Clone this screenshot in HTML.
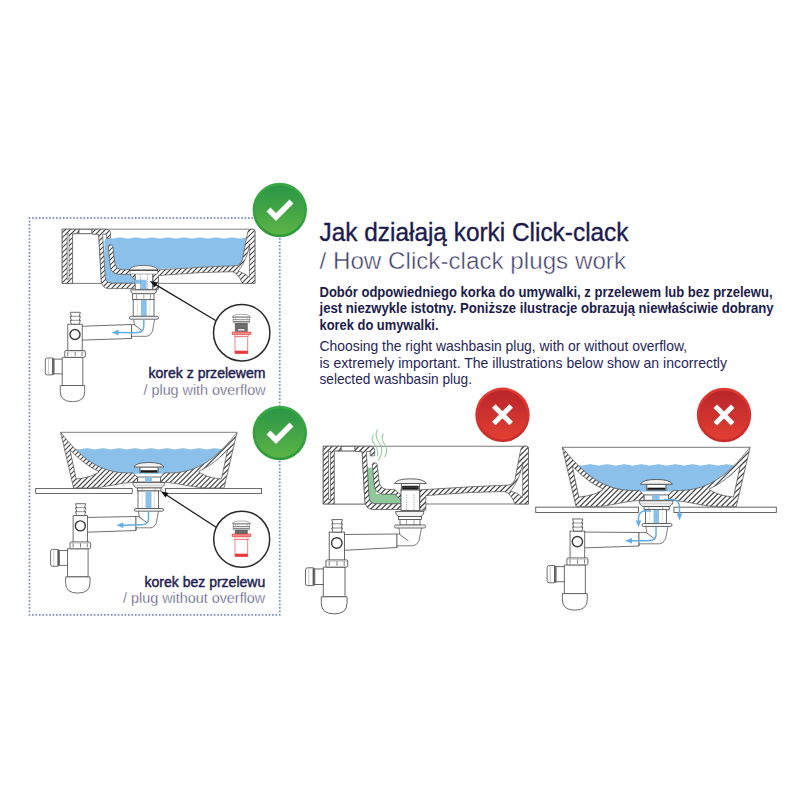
<!DOCTYPE html><html><head><meta charset="utf-8"><style>html,body{margin:0;padding:0;background:#fff;overflow:hidden}svg{display:block}</style></head><body>
<svg width="800" height="800" viewBox="0 0 800 800">
<defs><path id="hl" d="M-100 -20 L900 -1020 M-100 -15 L900 -1015 M-100 -10 L900 -1010 M-100 -5 L900 -1005 M-100 0 L900 -1000 M-100 5 L900 -995 M-100 10 L900 -990 M-100 15 L900 -985 M-100 20 L900 -980 M-100 25 L900 -975 M-100 30 L900 -970 M-100 35 L900 -965 M-100 40 L900 -960 M-100 45 L900 -955 M-100 50 L900 -950 M-100 55 L900 -945 M-100 60 L900 -940 M-100 65 L900 -935 M-100 70 L900 -930 M-100 75 L900 -925 M-100 80 L900 -920 M-100 85 L900 -915 M-100 90 L900 -910 M-100 95 L900 -905 M-100 100 L900 -900 M-100 105 L900 -895 M-100 110 L900 -890 M-100 115 L900 -885 M-100 120 L900 -880 M-100 125 L900 -875 M-100 130 L900 -870 M-100 135 L900 -865 M-100 140 L900 -860 M-100 145 L900 -855 M-100 150 L900 -850 M-100 155 L900 -845 M-100 160 L900 -840 M-100 165 L900 -835 M-100 170 L900 -830 M-100 175 L900 -825 M-100 180 L900 -820 M-100 185 L900 -815 M-100 190 L900 -810 M-100 195 L900 -805 M-100 200 L900 -800 M-100 205 L900 -795 M-100 210 L900 -790 M-100 215 L900 -785 M-100 220 L900 -780 M-100 225 L900 -775 M-100 230 L900 -770 M-100 235 L900 -765 M-100 240 L900 -760 M-100 245 L900 -755 M-100 250 L900 -750 M-100 255 L900 -745 M-100 260 L900 -740 M-100 265 L900 -735 M-100 270 L900 -730 M-100 275 L900 -725 M-100 280 L900 -720 M-100 285 L900 -715 M-100 290 L900 -710 M-100 295 L900 -705 M-100 300 L900 -700 M-100 305 L900 -695 M-100 310 L900 -690 M-100 315 L900 -685 M-100 320 L900 -680 M-100 325 L900 -675 M-100 330 L900 -670 M-100 335 L900 -665 M-100 340 L900 -660 M-100 345 L900 -655 M-100 350 L900 -650 M-100 355 L900 -645 M-100 360 L900 -640 M-100 365 L900 -635 M-100 370 L900 -630 M-100 375 L900 -625 M-100 380 L900 -620 M-100 385 L900 -615 M-100 390 L900 -610 M-100 395 L900 -605 M-100 400 L900 -600 M-100 405 L900 -595 M-100 410 L900 -590 M-100 415 L900 -585 M-100 420 L900 -580 M-100 425 L900 -575 M-100 430 L900 -570 M-100 435 L900 -565 M-100 440 L900 -560 M-100 445 L900 -555 M-100 450 L900 -550 M-100 455 L900 -545 M-100 460 L900 -540 M-100 465 L900 -535 M-100 470 L900 -530 M-100 475 L900 -525 M-100 480 L900 -520 M-100 485 L900 -515 M-100 490 L900 -510 M-100 495 L900 -505 M-100 500 L900 -500 M-100 505 L900 -495 M-100 510 L900 -490 M-100 515 L900 -485 M-100 520 L900 -480 M-100 525 L900 -475 M-100 530 L900 -470 M-100 535 L900 -465 M-100 540 L900 -460 M-100 545 L900 -455 M-100 550 L900 -450 M-100 555 L900 -445 M-100 560 L900 -440 M-100 565 L900 -435 M-100 570 L900 -430 M-100 575 L900 -425 M-100 580 L900 -420 M-100 585 L900 -415 M-100 590 L900 -410 M-100 595 L900 -405 M-100 600 L900 -400 M-100 605 L900 -395 M-100 610 L900 -390 M-100 615 L900 -385 M-100 620 L900 -380 M-100 625 L900 -375 M-100 630 L900 -370 M-100 635 L900 -365 M-100 640 L900 -360 M-100 645 L900 -355 M-100 650 L900 -350 M-100 655 L900 -345 M-100 660 L900 -340 M-100 665 L900 -335 M-100 670 L900 -330 M-100 675 L900 -325 M-100 680 L900 -320 M-100 685 L900 -315 M-100 690 L900 -310 M-100 695 L900 -305 M-100 700 L900 -300 M-100 705 L900 -295 M-100 710 L900 -290 M-100 715 L900 -285 M-100 720 L900 -280 M-100 725 L900 -275 M-100 730 L900 -270 M-100 735 L900 -265 M-100 740 L900 -260 M-100 745 L900 -255 M-100 750 L900 -250 M-100 755 L900 -245 M-100 760 L900 -240 M-100 765 L900 -235 M-100 770 L900 -230 M-100 775 L900 -225 M-100 780 L900 -220 M-100 785 L900 -215 M-100 790 L900 -210 M-100 795 L900 -205 M-100 800 L900 -200 M-100 805 L900 -195 M-100 810 L900 -190 M-100 815 L900 -185 M-100 820 L900 -180 M-100 825 L900 -175 M-100 830 L900 -170 M-100 835 L900 -165 M-100 840 L900 -160 M-100 845 L900 -155 M-100 850 L900 -150 M-100 855 L900 -145 M-100 860 L900 -140 M-100 865 L900 -135 M-100 870 L900 -130 M-100 875 L900 -125 M-100 880 L900 -120 M-100 885 L900 -115 M-100 890 L900 -110 M-100 895 L900 -105 M-100 900 L900 -100 M-100 905 L900 -95 M-100 910 L900 -90 M-100 915 L900 -85 M-100 920 L900 -80 M-100 925 L900 -75 M-100 930 L900 -70 M-100 935 L900 -65 M-100 940 L900 -60 M-100 945 L900 -55 M-100 950 L900 -50 M-100 955 L900 -45 M-100 960 L900 -40 M-100 965 L900 -35 M-100 970 L900 -30 M-100 975 L900 -25 M-100 980 L900 -20 M-100 985 L900 -15 M-100 990 L900 -10 M-100 995 L900 -5 M-100 1000 L900 0 M-100 1005 L900 5 M-100 1010 L900 10 M-100 1015 L900 15 M-100 1020 L900 20 M-100 1025 L900 25 M-100 1030 L900 30 M-100 1035 L900 35 M-100 1040 L900 40 M-100 1045 L900 45 M-100 1050 L900 50 M-100 1055 L900 55 M-100 1060 L900 60 M-100 1065 L900 65 M-100 1070 L900 70 M-100 1075 L900 75 M-100 1080 L900 80 M-100 1085 L900 85 M-100 1090 L900 90 M-100 1095 L900 95 M-100 1100 L900 100 M-100 1105 L900 105 M-100 1110 L900 110 M-100 1115 L900 115 M-100 1120 L900 120 M-100 1125 L900 125 M-100 1130 L900 130 M-100 1135 L900 135 M-100 1140 L900 140 M-100 1145 L900 145 M-100 1150 L900 150 M-100 1155 L900 155 M-100 1160 L900 160 M-100 1165 L900 165 M-100 1170 L900 170 M-100 1175 L900 175 M-100 1180 L900 180 M-100 1185 L900 185 M-100 1190 L900 190 M-100 1195 L900 195 M-100 1200 L900 200 M-100 1205 L900 205 M-100 1210 L900 210 M-100 1215 L900 215 M-100 1220 L900 220 M-100 1225 L900 225 M-100 1230 L900 230 M-100 1235 L900 235 M-100 1240 L900 240 M-100 1245 L900 245 M-100 1250 L900 250 M-100 1255 L900 255 M-100 1260 L900 260 M-100 1265 L900 265 M-100 1270 L900 270 M-100 1275 L900 275 M-100 1280 L900 280 M-100 1285 L900 285 M-100 1290 L900 290 M-100 1295 L900 295 M-100 1300 L900 300 M-100 1305 L900 305 M-100 1310 L900 310 M-100 1315 L900 315 M-100 1320 L900 320 M-100 1325 L900 325 M-100 1330 L900 330 M-100 1335 L900 335 M-100 1340 L900 340 M-100 1345 L900 345 M-100 1350 L900 350 M-100 1355 L900 355 M-100 1360 L900 360 M-100 1365 L900 365 M-100 1370 L900 370 M-100 1375 L900 375 M-100 1380 L900 380 M-100 1385 L900 385 M-100 1390 L900 390 M-100 1395 L900 395 M-100 1400 L900 400 M-100 1405 L900 405 M-100 1410 L900 410 M-100 1415 L900 415 M-100 1420 L900 420 M-100 1425 L900 425 M-100 1430 L900 430 M-100 1435 L900 435 M-100 1440 L900 440 M-100 1445 L900 445 M-100 1450 L900 450 M-100 1455 L900 455 M-100 1460 L900 460 M-100 1465 L900 465 M-100 1470 L900 470 M-100 1475 L900 475 M-100 1480 L900 480 M-100 1485 L900 485 M-100 1490 L900 490 M-100 1495 L900 495 M-100 1500 L900 500 M-100 1505 L900 505 M-100 1510 L900 510 M-100 1515 L900 515 M-100 1520 L900 520 M-100 1525 L900 525 M-100 1530 L900 530 M-100 1535 L900 535 M-100 1540 L900 540 M-100 1545 L900 545 M-100 1550 L900 550 M-100 1555 L900 555 M-100 1560 L900 560 M-100 1565 L900 565 M-100 1570 L900 570 M-100 1575 L900 575 M-100 1580 L900 580 M-100 1585 L900 585 M-100 1590 L900 590 M-100 1595 L900 595 M-100 1600 L900 600 M-100 1605 L900 605 M-100 1610 L900 610 M-100 1615 L900 615 M-100 1620 L900 620 M-100 1625 L900 625 M-100 1630 L900 630 M-100 1635 L900 635 M-100 1640 L900 640 M-100 1645 L900 645 M-100 1650 L900 650 M-100 1655 L900 655 M-100 1660 L900 660 M-100 1665 L900 665 M-100 1670 L900 670 M-100 1675 L900 675 M-100 1680 L900 680 M-100 1685 L900 685 M-100 1690 L900 690 M-100 1695 L900 695 M-100 1700 L900 700 M-100 1705 L900 705 M-100 1710 L900 710 M-100 1715 L900 715 M-100 1720 L900 720 M-100 1725 L900 725 M-100 1730 L900 730 M-100 1735 L900 735 M-100 1740 L900 740 M-100 1745 L900 745 M-100 1750 L900 750 M-100 1755 L900 755 M-100 1760 L900 760 M-100 1765 L900 765 M-100 1770 L900 770 M-100 1775 L900 775 M-100 1780 L900 780 M-100 1785 L900 785 M-100 1790 L900 790 M-100 1795 L900 795 M-100 1800 L900 800 M-100 1805 L900 805 M-100 1810 L900 810 M-100 1815 L900 815" stroke="#4a4a4a" stroke-width="1.20" fill="none"/><path id="hlm" d="M-100 820 L900 1820 M-100 815 L900 1815 M-100 810 L900 1810 M-100 805 L900 1805 M-100 800 L900 1800 M-100 795 L900 1795 M-100 790 L900 1790 M-100 785 L900 1785 M-100 780 L900 1780 M-100 775 L900 1775 M-100 770 L900 1770 M-100 765 L900 1765 M-100 760 L900 1760 M-100 755 L900 1755 M-100 750 L900 1750 M-100 745 L900 1745 M-100 740 L900 1740 M-100 735 L900 1735 M-100 730 L900 1730 M-100 725 L900 1725 M-100 720 L900 1720 M-100 715 L900 1715 M-100 710 L900 1710 M-100 705 L900 1705 M-100 700 L900 1700 M-100 695 L900 1695 M-100 690 L900 1690 M-100 685 L900 1685 M-100 680 L900 1680 M-100 675 L900 1675 M-100 670 L900 1670 M-100 665 L900 1665 M-100 660 L900 1660 M-100 655 L900 1655 M-100 650 L900 1650 M-100 645 L900 1645 M-100 640 L900 1640 M-100 635 L900 1635 M-100 630 L900 1630 M-100 625 L900 1625 M-100 620 L900 1620 M-100 615 L900 1615 M-100 610 L900 1610 M-100 605 L900 1605 M-100 600 L900 1600 M-100 595 L900 1595 M-100 590 L900 1590 M-100 585 L900 1585 M-100 580 L900 1580 M-100 575 L900 1575 M-100 570 L900 1570 M-100 565 L900 1565 M-100 560 L900 1560 M-100 555 L900 1555 M-100 550 L900 1550 M-100 545 L900 1545 M-100 540 L900 1540 M-100 535 L900 1535 M-100 530 L900 1530 M-100 525 L900 1525 M-100 520 L900 1520 M-100 515 L900 1515 M-100 510 L900 1510 M-100 505 L900 1505 M-100 500 L900 1500 M-100 495 L900 1495 M-100 490 L900 1490 M-100 485 L900 1485 M-100 480 L900 1480 M-100 475 L900 1475 M-100 470 L900 1470 M-100 465 L900 1465 M-100 460 L900 1460 M-100 455 L900 1455 M-100 450 L900 1450 M-100 445 L900 1445 M-100 440 L900 1440 M-100 435 L900 1435 M-100 430 L900 1430 M-100 425 L900 1425 M-100 420 L900 1420 M-100 415 L900 1415 M-100 410 L900 1410 M-100 405 L900 1405 M-100 400 L900 1400 M-100 395 L900 1395 M-100 390 L900 1390 M-100 385 L900 1385 M-100 380 L900 1380 M-100 375 L900 1375 M-100 370 L900 1370 M-100 365 L900 1365 M-100 360 L900 1360 M-100 355 L900 1355 M-100 350 L900 1350 M-100 345 L900 1345 M-100 340 L900 1340 M-100 335 L900 1335 M-100 330 L900 1330 M-100 325 L900 1325 M-100 320 L900 1320 M-100 315 L900 1315 M-100 310 L900 1310 M-100 305 L900 1305 M-100 300 L900 1300 M-100 295 L900 1295 M-100 290 L900 1290 M-100 285 L900 1285 M-100 280 L900 1280 M-100 275 L900 1275 M-100 270 L900 1270 M-100 265 L900 1265 M-100 260 L900 1260 M-100 255 L900 1255 M-100 250 L900 1250 M-100 245 L900 1245 M-100 240 L900 1240 M-100 235 L900 1235 M-100 230 L900 1230 M-100 225 L900 1225 M-100 220 L900 1220 M-100 215 L900 1215 M-100 210 L900 1210 M-100 205 L900 1205 M-100 200 L900 1200 M-100 195 L900 1195 M-100 190 L900 1190 M-100 185 L900 1185 M-100 180 L900 1180 M-100 175 L900 1175 M-100 170 L900 1170 M-100 165 L900 1165 M-100 160 L900 1160 M-100 155 L900 1155 M-100 150 L900 1150 M-100 145 L900 1145 M-100 140 L900 1140 M-100 135 L900 1135 M-100 130 L900 1130 M-100 125 L900 1125 M-100 120 L900 1120 M-100 115 L900 1115 M-100 110 L900 1110 M-100 105 L900 1105 M-100 100 L900 1100 M-100 95 L900 1095 M-100 90 L900 1090 M-100 85 L900 1085 M-100 80 L900 1080 M-100 75 L900 1075 M-100 70 L900 1070 M-100 65 L900 1065 M-100 60 L900 1060 M-100 55 L900 1055 M-100 50 L900 1050 M-100 45 L900 1045 M-100 40 L900 1040 M-100 35 L900 1035 M-100 30 L900 1030 M-100 25 L900 1025 M-100 20 L900 1020 M-100 15 L900 1015 M-100 10 L900 1010 M-100 5 L900 1005 M-100 0 L900 1000 M-100 -5 L900 995 M-100 -10 L900 990 M-100 -15 L900 985 M-100 -20 L900 980 M-100 -25 L900 975 M-100 -30 L900 970 M-100 -35 L900 965 M-100 -40 L900 960 M-100 -45 L900 955 M-100 -50 L900 950 M-100 -55 L900 945 M-100 -60 L900 940 M-100 -65 L900 935 M-100 -70 L900 930 M-100 -75 L900 925 M-100 -80 L900 920 M-100 -85 L900 915 M-100 -90 L900 910 M-100 -95 L900 905 M-100 -100 L900 900 M-100 -105 L900 895 M-100 -110 L900 890 M-100 -115 L900 885 M-100 -120 L900 880 M-100 -125 L900 875 M-100 -130 L900 870 M-100 -135 L900 865 M-100 -140 L900 860 M-100 -145 L900 855 M-100 -150 L900 850 M-100 -155 L900 845 M-100 -160 L900 840 M-100 -165 L900 835 M-100 -170 L900 830 M-100 -175 L900 825 M-100 -180 L900 820 M-100 -185 L900 815 M-100 -190 L900 810 M-100 -195 L900 805 M-100 -200 L900 800 M-100 -205 L900 795 M-100 -210 L900 790 M-100 -215 L900 785 M-100 -220 L900 780 M-100 -225 L900 775 M-100 -230 L900 770 M-100 -235 L900 765 M-100 -240 L900 760 M-100 -245 L900 755 M-100 -250 L900 750 M-100 -255 L900 745 M-100 -260 L900 740 M-100 -265 L900 735 M-100 -270 L900 730 M-100 -275 L900 725 M-100 -280 L900 720 M-100 -285 L900 715 M-100 -290 L900 710 M-100 -295 L900 705 M-100 -300 L900 700 M-100 -305 L900 695 M-100 -310 L900 690 M-100 -315 L900 685 M-100 -320 L900 680 M-100 -325 L900 675 M-100 -330 L900 670 M-100 -335 L900 665 M-100 -340 L900 660 M-100 -345 L900 655 M-100 -350 L900 650 M-100 -355 L900 645 M-100 -360 L900 640 M-100 -365 L900 635 M-100 -370 L900 630 M-100 -375 L900 625 M-100 -380 L900 620 M-100 -385 L900 615 M-100 -390 L900 610 M-100 -395 L900 605 M-100 -400 L900 600 M-100 -405 L900 595 M-100 -410 L900 590 M-100 -415 L900 585 M-100 -420 L900 580 M-100 -425 L900 575 M-100 -430 L900 570 M-100 -435 L900 565 M-100 -440 L900 560 M-100 -445 L900 555 M-100 -450 L900 550 M-100 -455 L900 545 M-100 -460 L900 540 M-100 -465 L900 535 M-100 -470 L900 530 M-100 -475 L900 525 M-100 -480 L900 520 M-100 -485 L900 515 M-100 -490 L900 510 M-100 -495 L900 505 M-100 -500 L900 500 M-100 -505 L900 495 M-100 -510 L900 490 M-100 -515 L900 485 M-100 -520 L900 480 M-100 -525 L900 475 M-100 -530 L900 470 M-100 -535 L900 465 M-100 -540 L900 460 M-100 -545 L900 455 M-100 -550 L900 450 M-100 -555 L900 445 M-100 -560 L900 440 M-100 -565 L900 435 M-100 -570 L900 430 M-100 -575 L900 425 M-100 -580 L900 420 M-100 -585 L900 415 M-100 -590 L900 410 M-100 -595 L900 405 M-100 -600 L900 400 M-100 -605 L900 395 M-100 -610 L900 390 M-100 -615 L900 385 M-100 -620 L900 380 M-100 -625 L900 375 M-100 -630 L900 370 M-100 -635 L900 365 M-100 -640 L900 360 M-100 -645 L900 355 M-100 -650 L900 350 M-100 -655 L900 345 M-100 -660 L900 340 M-100 -665 L900 335 M-100 -670 L900 330 M-100 -675 L900 325 M-100 -680 L900 320 M-100 -685 L900 315 M-100 -690 L900 310 M-100 -695 L900 305 M-100 -700 L900 300 M-100 -705 L900 295 M-100 -710 L900 290 M-100 -715 L900 285 M-100 -720 L900 280 M-100 -725 L900 275 M-100 -730 L900 270 M-100 -735 L900 265 M-100 -740 L900 260 M-100 -745 L900 255 M-100 -750 L900 250 M-100 -755 L900 245 M-100 -760 L900 240 M-100 -765 L900 235 M-100 -770 L900 230 M-100 -775 L900 225 M-100 -780 L900 220 M-100 -785 L900 215 M-100 -790 L900 210 M-100 -795 L900 205 M-100 -800 L900 200 M-100 -805 L900 195 M-100 -810 L900 190 M-100 -815 L900 185 M-100 -820 L900 180 M-100 -825 L900 175 M-100 -830 L900 170 M-100 -835 L900 165 M-100 -840 L900 160 M-100 -845 L900 155 M-100 -850 L900 150 M-100 -855 L900 145 M-100 -860 L900 140 M-100 -865 L900 135 M-100 -870 L900 130 M-100 -875 L900 125 M-100 -880 L900 120 M-100 -885 L900 115 M-100 -890 L900 110 M-100 -895 L900 105 M-100 -900 L900 100 M-100 -905 L900 95 M-100 -910 L900 90 M-100 -915 L900 85 M-100 -920 L900 80 M-100 -925 L900 75 M-100 -930 L900 70 M-100 -935 L900 65 M-100 -940 L900 60 M-100 -945 L900 55 M-100 -950 L900 50 M-100 -955 L900 45 M-100 -960 L900 40 M-100 -965 L900 35 M-100 -970 L900 30 M-100 -975 L900 25 M-100 -980 L900 20 M-100 -985 L900 15 M-100 -990 L900 10 M-100 -995 L900 5 M-100 -1000 L900 0 M-100 -1005 L900 -5 M-100 -1010 L900 -10 M-100 -1015 L900 -15" stroke="#4a4a4a" stroke-width="1.20" fill="none"/></defs>
<defs>
<pattern id="hatch" patternUnits="userSpaceOnUse" width="3.2" height="3.2" patternTransform="rotate(45)">
<rect width="3.2" height="3.2" fill="#fff"/><rect x="0" y="0" width="0.8" height="3.2" fill="#4c4c4c"/></pattern>
<pattern id="hatchm" patternUnits="userSpaceOnUse" width="3.2" height="3.2" patternTransform="rotate(-45)">
<rect width="3.2" height="3.2" fill="#fff"/><rect x="0" y="0" width="0.8" height="3.2" fill="#4c4c4c"/></pattern>
<linearGradient id="g_ok_o" x1="0" y1="0" x2="0" y2="1"><stop offset="0" stop-color="#3aa846"/><stop offset="1" stop-color="#2f9a3c"/></linearGradient>
<linearGradient id="g_ok_i" x1="0" y1="0" x2="0" y2="1"><stop offset="0" stop-color="#2a9646"/><stop offset="1" stop-color="#5bb446"/></linearGradient>
<linearGradient id="g_no_o" x1="0" y1="0" x2="0" y2="1"><stop offset="0" stop-color="#e23b31"/><stop offset="1" stop-color="#c92c2a"/></linearGradient>
<linearGradient id="g_no_i" x1="0" y1="0" x2="0" y2="1"><stop offset="0" stop-color="#b8252a"/><stop offset="1" stop-color="#e23f33"/></linearGradient>
<marker id="ah" markerWidth="8" markerHeight="8" refX="1" refY="4" orient="auto" markerUnits="userSpaceOnUse"><path d="M0,4 L8,0.8 L8,7.2 Z" fill="#111"/></marker>
</defs>
<rect width="800" height="800" fill="#fff"/>
<g fill="#7383cf">
<rect x="28.64" y="217.15" width="1.6" height="1.7"/>
<rect x="28.64" y="614.05" width="1.6" height="1.7"/>
<rect x="32.07" y="217.15" width="1.6" height="1.7"/>
<rect x="32.07" y="614.05" width="1.6" height="1.7"/>
<rect x="35.50" y="217.15" width="1.6" height="1.7"/>
<rect x="35.50" y="614.05" width="1.6" height="1.7"/>
<rect x="38.93" y="217.15" width="1.6" height="1.7"/>
<rect x="38.93" y="614.05" width="1.6" height="1.7"/>
<rect x="42.36" y="217.15" width="1.6" height="1.7"/>
<rect x="42.36" y="614.05" width="1.6" height="1.7"/>
<rect x="45.78" y="217.15" width="1.6" height="1.7"/>
<rect x="45.78" y="614.05" width="1.6" height="1.7"/>
<rect x="49.21" y="217.15" width="1.6" height="1.7"/>
<rect x="49.21" y="614.05" width="1.6" height="1.7"/>
<rect x="52.64" y="217.15" width="1.6" height="1.7"/>
<rect x="52.64" y="614.05" width="1.6" height="1.7"/>
<rect x="56.07" y="217.15" width="1.6" height="1.7"/>
<rect x="56.07" y="614.05" width="1.6" height="1.7"/>
<rect x="59.50" y="217.15" width="1.6" height="1.7"/>
<rect x="59.50" y="614.05" width="1.6" height="1.7"/>
<rect x="62.93" y="217.15" width="1.6" height="1.7"/>
<rect x="62.93" y="614.05" width="1.6" height="1.7"/>
<rect x="66.36" y="217.15" width="1.6" height="1.7"/>
<rect x="66.36" y="614.05" width="1.6" height="1.7"/>
<rect x="69.79" y="217.15" width="1.6" height="1.7"/>
<rect x="69.79" y="614.05" width="1.6" height="1.7"/>
<rect x="73.22" y="217.15" width="1.6" height="1.7"/>
<rect x="73.22" y="614.05" width="1.6" height="1.7"/>
<rect x="76.64" y="217.15" width="1.6" height="1.7"/>
<rect x="76.64" y="614.05" width="1.6" height="1.7"/>
<rect x="80.07" y="217.15" width="1.6" height="1.7"/>
<rect x="80.07" y="614.05" width="1.6" height="1.7"/>
<rect x="83.50" y="217.15" width="1.6" height="1.7"/>
<rect x="83.50" y="614.05" width="1.6" height="1.7"/>
<rect x="86.93" y="217.15" width="1.6" height="1.7"/>
<rect x="86.93" y="614.05" width="1.6" height="1.7"/>
<rect x="90.36" y="217.15" width="1.6" height="1.7"/>
<rect x="90.36" y="614.05" width="1.6" height="1.7"/>
<rect x="93.79" y="217.15" width="1.6" height="1.7"/>
<rect x="93.79" y="614.05" width="1.6" height="1.7"/>
<rect x="97.22" y="217.15" width="1.6" height="1.7"/>
<rect x="97.22" y="614.05" width="1.6" height="1.7"/>
<rect x="100.65" y="217.15" width="1.6" height="1.7"/>
<rect x="100.65" y="614.05" width="1.6" height="1.7"/>
<rect x="104.08" y="217.15" width="1.6" height="1.7"/>
<rect x="104.08" y="614.05" width="1.6" height="1.7"/>
<rect x="107.50" y="217.15" width="1.6" height="1.7"/>
<rect x="107.50" y="614.05" width="1.6" height="1.7"/>
<rect x="110.93" y="217.15" width="1.6" height="1.7"/>
<rect x="110.93" y="614.05" width="1.6" height="1.7"/>
<rect x="114.36" y="217.15" width="1.6" height="1.7"/>
<rect x="114.36" y="614.05" width="1.6" height="1.7"/>
<rect x="117.79" y="217.15" width="1.6" height="1.7"/>
<rect x="117.79" y="614.05" width="1.6" height="1.7"/>
<rect x="121.22" y="217.15" width="1.6" height="1.7"/>
<rect x="121.22" y="614.05" width="1.6" height="1.7"/>
<rect x="124.65" y="217.15" width="1.6" height="1.7"/>
<rect x="124.65" y="614.05" width="1.6" height="1.7"/>
<rect x="128.08" y="217.15" width="1.6" height="1.7"/>
<rect x="128.08" y="614.05" width="1.6" height="1.7"/>
<rect x="131.51" y="217.15" width="1.6" height="1.7"/>
<rect x="131.51" y="614.05" width="1.6" height="1.7"/>
<rect x="134.94" y="217.15" width="1.6" height="1.7"/>
<rect x="134.94" y="614.05" width="1.6" height="1.7"/>
<rect x="138.36" y="217.15" width="1.6" height="1.7"/>
<rect x="138.36" y="614.05" width="1.6" height="1.7"/>
<rect x="141.79" y="217.15" width="1.6" height="1.7"/>
<rect x="141.79" y="614.05" width="1.6" height="1.7"/>
<rect x="145.22" y="217.15" width="1.6" height="1.7"/>
<rect x="145.22" y="614.05" width="1.6" height="1.7"/>
<rect x="148.65" y="217.15" width="1.6" height="1.7"/>
<rect x="148.65" y="614.05" width="1.6" height="1.7"/>
<rect x="152.08" y="217.15" width="1.6" height="1.7"/>
<rect x="152.08" y="614.05" width="1.6" height="1.7"/>
<rect x="155.51" y="217.15" width="1.6" height="1.7"/>
<rect x="155.51" y="614.05" width="1.6" height="1.7"/>
<rect x="158.94" y="217.15" width="1.6" height="1.7"/>
<rect x="158.94" y="614.05" width="1.6" height="1.7"/>
<rect x="162.37" y="217.15" width="1.6" height="1.7"/>
<rect x="162.37" y="614.05" width="1.6" height="1.7"/>
<rect x="165.80" y="217.15" width="1.6" height="1.7"/>
<rect x="165.80" y="614.05" width="1.6" height="1.7"/>
<rect x="169.23" y="217.15" width="1.6" height="1.7"/>
<rect x="169.23" y="614.05" width="1.6" height="1.7"/>
<rect x="172.65" y="217.15" width="1.6" height="1.7"/>
<rect x="172.65" y="614.05" width="1.6" height="1.7"/>
<rect x="176.08" y="217.15" width="1.6" height="1.7"/>
<rect x="176.08" y="614.05" width="1.6" height="1.7"/>
<rect x="179.51" y="217.15" width="1.6" height="1.7"/>
<rect x="179.51" y="614.05" width="1.6" height="1.7"/>
<rect x="182.94" y="217.15" width="1.6" height="1.7"/>
<rect x="182.94" y="614.05" width="1.6" height="1.7"/>
<rect x="186.37" y="217.15" width="1.6" height="1.7"/>
<rect x="186.37" y="614.05" width="1.6" height="1.7"/>
<rect x="189.80" y="217.15" width="1.6" height="1.7"/>
<rect x="189.80" y="614.05" width="1.6" height="1.7"/>
<rect x="193.23" y="217.15" width="1.6" height="1.7"/>
<rect x="193.23" y="614.05" width="1.6" height="1.7"/>
<rect x="196.66" y="217.15" width="1.6" height="1.7"/>
<rect x="196.66" y="614.05" width="1.6" height="1.7"/>
<rect x="200.09" y="217.15" width="1.6" height="1.7"/>
<rect x="200.09" y="614.05" width="1.6" height="1.7"/>
<rect x="203.51" y="217.15" width="1.6" height="1.7"/>
<rect x="203.51" y="614.05" width="1.6" height="1.7"/>
<rect x="206.94" y="217.15" width="1.6" height="1.7"/>
<rect x="206.94" y="614.05" width="1.6" height="1.7"/>
<rect x="210.37" y="217.15" width="1.6" height="1.7"/>
<rect x="210.37" y="614.05" width="1.6" height="1.7"/>
<rect x="213.80" y="217.15" width="1.6" height="1.7"/>
<rect x="213.80" y="614.05" width="1.6" height="1.7"/>
<rect x="217.23" y="217.15" width="1.6" height="1.7"/>
<rect x="217.23" y="614.05" width="1.6" height="1.7"/>
<rect x="220.66" y="217.15" width="1.6" height="1.7"/>
<rect x="220.66" y="614.05" width="1.6" height="1.7"/>
<rect x="224.09" y="217.15" width="1.6" height="1.7"/>
<rect x="224.09" y="614.05" width="1.6" height="1.7"/>
<rect x="227.52" y="217.15" width="1.6" height="1.7"/>
<rect x="227.52" y="614.05" width="1.6" height="1.7"/>
<rect x="230.95" y="217.15" width="1.6" height="1.7"/>
<rect x="230.95" y="614.05" width="1.6" height="1.7"/>
<rect x="234.37" y="217.15" width="1.6" height="1.7"/>
<rect x="234.37" y="614.05" width="1.6" height="1.7"/>
<rect x="237.80" y="217.15" width="1.6" height="1.7"/>
<rect x="237.80" y="614.05" width="1.6" height="1.7"/>
<rect x="241.23" y="217.15" width="1.6" height="1.7"/>
<rect x="241.23" y="614.05" width="1.6" height="1.7"/>
<rect x="244.66" y="217.15" width="1.6" height="1.7"/>
<rect x="244.66" y="614.05" width="1.6" height="1.7"/>
<rect x="248.09" y="217.15" width="1.6" height="1.7"/>
<rect x="248.09" y="614.05" width="1.6" height="1.7"/>
<rect x="251.52" y="217.15" width="1.6" height="1.7"/>
<rect x="251.52" y="614.05" width="1.6" height="1.7"/>
<rect x="254.95" y="217.15" width="1.6" height="1.7"/>
<rect x="254.95" y="614.05" width="1.6" height="1.7"/>
<rect x="258.38" y="217.15" width="1.6" height="1.7"/>
<rect x="258.38" y="614.05" width="1.6" height="1.7"/>
<rect x="261.81" y="217.15" width="1.6" height="1.7"/>
<rect x="261.81" y="614.05" width="1.6" height="1.7"/>
<rect x="265.23" y="217.15" width="1.6" height="1.7"/>
<rect x="265.23" y="614.05" width="1.6" height="1.7"/>
<rect x="268.66" y="217.15" width="1.6" height="1.7"/>
<rect x="268.66" y="614.05" width="1.6" height="1.7"/>
<rect x="272.09" y="217.15" width="1.6" height="1.7"/>
<rect x="272.09" y="614.05" width="1.6" height="1.7"/>
<rect x="275.52" y="217.15" width="1.6" height="1.7"/>
<rect x="275.52" y="614.05" width="1.6" height="1.7"/>
<rect x="278.95" y="217.15" width="1.6" height="1.7"/>
<rect x="278.95" y="614.05" width="1.6" height="1.7"/>
<rect x="28.59" y="220.68" width="1.7" height="1.6"/>
<rect x="278.90" y="220.68" width="1.7" height="1.6"/>
<rect x="28.59" y="224.16" width="1.7" height="1.6"/>
<rect x="278.90" y="224.16" width="1.7" height="1.6"/>
<rect x="28.59" y="227.64" width="1.7" height="1.6"/>
<rect x="278.90" y="227.64" width="1.7" height="1.6"/>
<rect x="28.59" y="231.13" width="1.7" height="1.6"/>
<rect x="278.90" y="231.13" width="1.7" height="1.6"/>
<rect x="28.59" y="234.61" width="1.7" height="1.6"/>
<rect x="278.90" y="234.61" width="1.7" height="1.6"/>
<rect x="28.59" y="238.09" width="1.7" height="1.6"/>
<rect x="278.90" y="238.09" width="1.7" height="1.6"/>
<rect x="28.59" y="241.57" width="1.7" height="1.6"/>
<rect x="278.90" y="241.57" width="1.7" height="1.6"/>
<rect x="28.59" y="245.05" width="1.7" height="1.6"/>
<rect x="278.90" y="245.05" width="1.7" height="1.6"/>
<rect x="28.59" y="248.53" width="1.7" height="1.6"/>
<rect x="278.90" y="248.53" width="1.7" height="1.6"/>
<rect x="28.59" y="252.02" width="1.7" height="1.6"/>
<rect x="278.90" y="252.02" width="1.7" height="1.6"/>
<rect x="28.59" y="255.50" width="1.7" height="1.6"/>
<rect x="278.90" y="255.50" width="1.7" height="1.6"/>
<rect x="28.59" y="258.98" width="1.7" height="1.6"/>
<rect x="278.90" y="258.98" width="1.7" height="1.6"/>
<rect x="28.59" y="262.46" width="1.7" height="1.6"/>
<rect x="278.90" y="262.46" width="1.7" height="1.6"/>
<rect x="28.59" y="265.94" width="1.7" height="1.6"/>
<rect x="278.90" y="265.94" width="1.7" height="1.6"/>
<rect x="28.59" y="269.42" width="1.7" height="1.6"/>
<rect x="278.90" y="269.42" width="1.7" height="1.6"/>
<rect x="28.59" y="272.91" width="1.7" height="1.6"/>
<rect x="278.90" y="272.91" width="1.7" height="1.6"/>
<rect x="28.59" y="276.39" width="1.7" height="1.6"/>
<rect x="278.90" y="276.39" width="1.7" height="1.6"/>
<rect x="28.59" y="279.87" width="1.7" height="1.6"/>
<rect x="278.90" y="279.87" width="1.7" height="1.6"/>
<rect x="28.59" y="283.35" width="1.7" height="1.6"/>
<rect x="278.90" y="283.35" width="1.7" height="1.6"/>
<rect x="28.59" y="286.83" width="1.7" height="1.6"/>
<rect x="278.90" y="286.83" width="1.7" height="1.6"/>
<rect x="28.59" y="290.31" width="1.7" height="1.6"/>
<rect x="278.90" y="290.31" width="1.7" height="1.6"/>
<rect x="28.59" y="293.79" width="1.7" height="1.6"/>
<rect x="278.90" y="293.79" width="1.7" height="1.6"/>
<rect x="28.59" y="297.28" width="1.7" height="1.6"/>
<rect x="278.90" y="297.28" width="1.7" height="1.6"/>
<rect x="28.59" y="300.76" width="1.7" height="1.6"/>
<rect x="278.90" y="300.76" width="1.7" height="1.6"/>
<rect x="28.59" y="304.24" width="1.7" height="1.6"/>
<rect x="278.90" y="304.24" width="1.7" height="1.6"/>
<rect x="28.59" y="307.72" width="1.7" height="1.6"/>
<rect x="278.90" y="307.72" width="1.7" height="1.6"/>
<rect x="28.59" y="311.20" width="1.7" height="1.6"/>
<rect x="278.90" y="311.20" width="1.7" height="1.6"/>
<rect x="28.59" y="314.68" width="1.7" height="1.6"/>
<rect x="278.90" y="314.68" width="1.7" height="1.6"/>
<rect x="28.59" y="318.17" width="1.7" height="1.6"/>
<rect x="278.90" y="318.17" width="1.7" height="1.6"/>
<rect x="28.59" y="321.65" width="1.7" height="1.6"/>
<rect x="278.90" y="321.65" width="1.7" height="1.6"/>
<rect x="28.59" y="325.13" width="1.7" height="1.6"/>
<rect x="278.90" y="325.13" width="1.7" height="1.6"/>
<rect x="28.59" y="328.61" width="1.7" height="1.6"/>
<rect x="278.90" y="328.61" width="1.7" height="1.6"/>
<rect x="28.59" y="332.09" width="1.7" height="1.6"/>
<rect x="278.90" y="332.09" width="1.7" height="1.6"/>
<rect x="28.59" y="335.57" width="1.7" height="1.6"/>
<rect x="278.90" y="335.57" width="1.7" height="1.6"/>
<rect x="28.59" y="339.06" width="1.7" height="1.6"/>
<rect x="278.90" y="339.06" width="1.7" height="1.6"/>
<rect x="28.59" y="342.54" width="1.7" height="1.6"/>
<rect x="278.90" y="342.54" width="1.7" height="1.6"/>
<rect x="28.59" y="346.02" width="1.7" height="1.6"/>
<rect x="278.90" y="346.02" width="1.7" height="1.6"/>
<rect x="28.59" y="349.50" width="1.7" height="1.6"/>
<rect x="278.90" y="349.50" width="1.7" height="1.6"/>
<rect x="28.59" y="352.98" width="1.7" height="1.6"/>
<rect x="278.90" y="352.98" width="1.7" height="1.6"/>
<rect x="28.59" y="356.46" width="1.7" height="1.6"/>
<rect x="278.90" y="356.46" width="1.7" height="1.6"/>
<rect x="28.59" y="359.94" width="1.7" height="1.6"/>
<rect x="278.90" y="359.94" width="1.7" height="1.6"/>
<rect x="28.59" y="363.43" width="1.7" height="1.6"/>
<rect x="278.90" y="363.43" width="1.7" height="1.6"/>
<rect x="28.59" y="366.91" width="1.7" height="1.6"/>
<rect x="278.90" y="366.91" width="1.7" height="1.6"/>
<rect x="28.59" y="370.39" width="1.7" height="1.6"/>
<rect x="278.90" y="370.39" width="1.7" height="1.6"/>
<rect x="28.59" y="373.87" width="1.7" height="1.6"/>
<rect x="278.90" y="373.87" width="1.7" height="1.6"/>
<rect x="28.59" y="377.35" width="1.7" height="1.6"/>
<rect x="278.90" y="377.35" width="1.7" height="1.6"/>
<rect x="28.59" y="380.83" width="1.7" height="1.6"/>
<rect x="278.90" y="380.83" width="1.7" height="1.6"/>
<rect x="28.59" y="384.32" width="1.7" height="1.6"/>
<rect x="278.90" y="384.32" width="1.7" height="1.6"/>
<rect x="28.59" y="387.80" width="1.7" height="1.6"/>
<rect x="278.90" y="387.80" width="1.7" height="1.6"/>
<rect x="28.59" y="391.28" width="1.7" height="1.6"/>
<rect x="278.90" y="391.28" width="1.7" height="1.6"/>
<rect x="28.59" y="394.76" width="1.7" height="1.6"/>
<rect x="278.90" y="394.76" width="1.7" height="1.6"/>
<rect x="28.59" y="398.24" width="1.7" height="1.6"/>
<rect x="278.90" y="398.24" width="1.7" height="1.6"/>
<rect x="28.59" y="401.72" width="1.7" height="1.6"/>
<rect x="278.90" y="401.72" width="1.7" height="1.6"/>
<rect x="28.59" y="405.21" width="1.7" height="1.6"/>
<rect x="278.90" y="405.21" width="1.7" height="1.6"/>
<rect x="28.59" y="408.69" width="1.7" height="1.6"/>
<rect x="278.90" y="408.69" width="1.7" height="1.6"/>
<rect x="28.59" y="412.17" width="1.7" height="1.6"/>
<rect x="278.90" y="412.17" width="1.7" height="1.6"/>
<rect x="28.59" y="415.65" width="1.7" height="1.6"/>
<rect x="278.90" y="415.65" width="1.7" height="1.6"/>
<rect x="28.59" y="419.13" width="1.7" height="1.6"/>
<rect x="278.90" y="419.13" width="1.7" height="1.6"/>
<rect x="28.59" y="422.61" width="1.7" height="1.6"/>
<rect x="278.90" y="422.61" width="1.7" height="1.6"/>
<rect x="28.59" y="426.09" width="1.7" height="1.6"/>
<rect x="278.90" y="426.09" width="1.7" height="1.6"/>
<rect x="28.59" y="429.58" width="1.7" height="1.6"/>
<rect x="278.90" y="429.58" width="1.7" height="1.6"/>
<rect x="28.59" y="433.06" width="1.7" height="1.6"/>
<rect x="278.90" y="433.06" width="1.7" height="1.6"/>
<rect x="28.59" y="436.54" width="1.7" height="1.6"/>
<rect x="278.90" y="436.54" width="1.7" height="1.6"/>
<rect x="28.59" y="440.02" width="1.7" height="1.6"/>
<rect x="278.90" y="440.02" width="1.7" height="1.6"/>
<rect x="28.59" y="443.50" width="1.7" height="1.6"/>
<rect x="278.90" y="443.50" width="1.7" height="1.6"/>
<rect x="28.59" y="446.98" width="1.7" height="1.6"/>
<rect x="278.90" y="446.98" width="1.7" height="1.6"/>
<rect x="28.59" y="450.47" width="1.7" height="1.6"/>
<rect x="278.90" y="450.47" width="1.7" height="1.6"/>
<rect x="28.59" y="453.95" width="1.7" height="1.6"/>
<rect x="278.90" y="453.95" width="1.7" height="1.6"/>
<rect x="28.59" y="457.43" width="1.7" height="1.6"/>
<rect x="278.90" y="457.43" width="1.7" height="1.6"/>
<rect x="28.59" y="460.91" width="1.7" height="1.6"/>
<rect x="278.90" y="460.91" width="1.7" height="1.6"/>
<rect x="28.59" y="464.39" width="1.7" height="1.6"/>
<rect x="278.90" y="464.39" width="1.7" height="1.6"/>
<rect x="28.59" y="467.87" width="1.7" height="1.6"/>
<rect x="278.90" y="467.87" width="1.7" height="1.6"/>
<rect x="28.59" y="471.36" width="1.7" height="1.6"/>
<rect x="278.90" y="471.36" width="1.7" height="1.6"/>
<rect x="28.59" y="474.84" width="1.7" height="1.6"/>
<rect x="278.90" y="474.84" width="1.7" height="1.6"/>
<rect x="28.59" y="478.32" width="1.7" height="1.6"/>
<rect x="278.90" y="478.32" width="1.7" height="1.6"/>
<rect x="28.59" y="481.80" width="1.7" height="1.6"/>
<rect x="278.90" y="481.80" width="1.7" height="1.6"/>
<rect x="28.59" y="485.28" width="1.7" height="1.6"/>
<rect x="278.90" y="485.28" width="1.7" height="1.6"/>
<rect x="28.59" y="488.76" width="1.7" height="1.6"/>
<rect x="278.90" y="488.76" width="1.7" height="1.6"/>
<rect x="28.59" y="492.24" width="1.7" height="1.6"/>
<rect x="278.90" y="492.24" width="1.7" height="1.6"/>
<rect x="28.59" y="495.73" width="1.7" height="1.6"/>
<rect x="278.90" y="495.73" width="1.7" height="1.6"/>
<rect x="28.59" y="499.21" width="1.7" height="1.6"/>
<rect x="278.90" y="499.21" width="1.7" height="1.6"/>
<rect x="28.59" y="502.69" width="1.7" height="1.6"/>
<rect x="278.90" y="502.69" width="1.7" height="1.6"/>
<rect x="28.59" y="506.17" width="1.7" height="1.6"/>
<rect x="278.90" y="506.17" width="1.7" height="1.6"/>
<rect x="28.59" y="509.65" width="1.7" height="1.6"/>
<rect x="278.90" y="509.65" width="1.7" height="1.6"/>
<rect x="28.59" y="513.13" width="1.7" height="1.6"/>
<rect x="278.90" y="513.13" width="1.7" height="1.6"/>
<rect x="28.59" y="516.62" width="1.7" height="1.6"/>
<rect x="278.90" y="516.62" width="1.7" height="1.6"/>
<rect x="28.59" y="520.10" width="1.7" height="1.6"/>
<rect x="278.90" y="520.10" width="1.7" height="1.6"/>
<rect x="28.59" y="523.58" width="1.7" height="1.6"/>
<rect x="278.90" y="523.58" width="1.7" height="1.6"/>
<rect x="28.59" y="527.06" width="1.7" height="1.6"/>
<rect x="278.90" y="527.06" width="1.7" height="1.6"/>
<rect x="28.59" y="530.54" width="1.7" height="1.6"/>
<rect x="278.90" y="530.54" width="1.7" height="1.6"/>
<rect x="28.59" y="534.02" width="1.7" height="1.6"/>
<rect x="278.90" y="534.02" width="1.7" height="1.6"/>
<rect x="28.59" y="537.51" width="1.7" height="1.6"/>
<rect x="278.90" y="537.51" width="1.7" height="1.6"/>
<rect x="28.59" y="540.99" width="1.7" height="1.6"/>
<rect x="278.90" y="540.99" width="1.7" height="1.6"/>
<rect x="28.59" y="544.47" width="1.7" height="1.6"/>
<rect x="278.90" y="544.47" width="1.7" height="1.6"/>
<rect x="28.59" y="547.95" width="1.7" height="1.6"/>
<rect x="278.90" y="547.95" width="1.7" height="1.6"/>
<rect x="28.59" y="551.43" width="1.7" height="1.6"/>
<rect x="278.90" y="551.43" width="1.7" height="1.6"/>
<rect x="28.59" y="554.91" width="1.7" height="1.6"/>
<rect x="278.90" y="554.91" width="1.7" height="1.6"/>
<rect x="28.59" y="558.39" width="1.7" height="1.6"/>
<rect x="278.90" y="558.39" width="1.7" height="1.6"/>
<rect x="28.59" y="561.88" width="1.7" height="1.6"/>
<rect x="278.90" y="561.88" width="1.7" height="1.6"/>
<rect x="28.59" y="565.36" width="1.7" height="1.6"/>
<rect x="278.90" y="565.36" width="1.7" height="1.6"/>
<rect x="28.59" y="568.84" width="1.7" height="1.6"/>
<rect x="278.90" y="568.84" width="1.7" height="1.6"/>
<rect x="28.59" y="572.32" width="1.7" height="1.6"/>
<rect x="278.90" y="572.32" width="1.7" height="1.6"/>
<rect x="28.59" y="575.80" width="1.7" height="1.6"/>
<rect x="278.90" y="575.80" width="1.7" height="1.6"/>
<rect x="28.59" y="579.28" width="1.7" height="1.6"/>
<rect x="278.90" y="579.28" width="1.7" height="1.6"/>
<rect x="28.59" y="582.77" width="1.7" height="1.6"/>
<rect x="278.90" y="582.77" width="1.7" height="1.6"/>
<rect x="28.59" y="586.25" width="1.7" height="1.6"/>
<rect x="278.90" y="586.25" width="1.7" height="1.6"/>
<rect x="28.59" y="589.73" width="1.7" height="1.6"/>
<rect x="278.90" y="589.73" width="1.7" height="1.6"/>
<rect x="28.59" y="593.21" width="1.7" height="1.6"/>
<rect x="278.90" y="593.21" width="1.7" height="1.6"/>
<rect x="28.59" y="596.69" width="1.7" height="1.6"/>
<rect x="278.90" y="596.69" width="1.7" height="1.6"/>
<rect x="28.59" y="600.17" width="1.7" height="1.6"/>
<rect x="278.90" y="600.17" width="1.7" height="1.6"/>
<rect x="28.59" y="603.66" width="1.7" height="1.6"/>
<rect x="278.90" y="603.66" width="1.7" height="1.6"/>
<rect x="28.59" y="607.14" width="1.7" height="1.6"/>
<rect x="278.90" y="607.14" width="1.7" height="1.6"/>
<rect x="28.59" y="610.62" width="1.7" height="1.6"/>
<rect x="278.90" y="610.62" width="1.7" height="1.6"/>
</g>
<path d="M104.4,242 Q104.4,238 108,238 L108.00,238.00 L109.00,238.21 L109.99,238.39 L110.99,238.51 L111.99,238.55 L112.99,238.51 L113.98,238.39 L114.98,238.21 L115.98,238.00 L116.97,237.79 L117.97,237.62 L118.97,237.49 L119.97,237.45 L120.96,237.49 L121.96,237.61 L122.96,237.78 L123.95,237.99 L124.95,238.20 L125.95,238.38 L126.95,238.50 L127.94,238.55 L128.94,238.51 L129.94,238.40 L130.93,238.22 L131.93,238.01 L132.93,237.80 L133.93,237.62 L134.92,237.50 L135.92,237.45 L136.92,237.49 L137.91,237.60 L138.91,237.77 L139.91,237.98 L140.91,238.19 L141.90,238.37 L142.90,238.50 L143.90,238.55 L144.89,238.52 L145.89,238.41 L146.89,238.23 L147.89,238.02 L148.88,237.81 L149.88,237.63 L150.88,237.50 L151.87,237.45 L152.87,237.48 L153.87,237.59 L154.87,237.76 L155.86,237.97 L156.86,238.18 L157.86,238.37 L158.85,238.50 L159.85,238.55 L160.85,238.52 L161.85,238.41 L162.84,238.24 L163.84,238.03 L164.84,237.82 L165.83,237.64 L166.83,237.51 L167.83,237.45 L168.83,237.48 L169.82,237.58 L170.82,237.75 L171.82,237.96 L172.81,238.17 L173.81,238.36 L174.81,238.49 L175.81,238.55 L176.80,238.52 L177.80,238.42 L178.80,238.25 L179.79,238.04 L180.79,237.83 L181.79,237.64 L182.79,237.51 L183.78,237.45 L184.78,237.48 L185.78,237.58 L186.77,237.75 L187.77,237.95 L188.77,238.16 L189.77,238.35 L190.76,238.49 L191.76,238.55 L192.76,238.53 L193.75,238.42 L194.75,238.26 L195.75,238.05 L196.75,237.84 L197.74,237.65 L198.74,237.52 L199.74,237.45 L200.73,237.47 L201.73,237.57 L202.73,237.74 L203.73,237.94 L204.72,238.15 L205.72,238.34 L206.72,238.48 L207.71,238.55 L208.71,238.53 L209.71,238.43 L210.71,238.27 L211.70,238.06 L212.70,237.85 L213.70,237.66 L214.69,237.52 L215.69,237.45 L216.69,237.47 L217.69,237.57 L218.68,237.73 L219.68,237.93 L220.68,238.14 L221.67,238.34 L222.67,238.48 L223.67,238.55 L224.67,238.53 L225.66,238.44 L226.66,238.28 L227.66,238.07 L228.65,237.86 L229.65,237.67 L230.65,237.53 L231.65,237.46 L232.64,237.47 L233.64,237.56 L234.64,237.72 L235.63,237.92 L236.63,238.13 L237.63,238.33 L238.63,238.47 L239.62,238.54 L240.62,238.53 L241.62,238.44 L242.61,238.28 L243.61,238.08 L244.61,237.87 L245.61,237.68 L246.60,237.53 L247.60,237.46 L247.6,237.6 L242.3,260 Q241.5,265 237.4,265.6 L135,270 L135,284 L104.4,284 Z" fill="#8ac0ea"/>
<path d="M62.2,229.2 H252.9 Q254.9,229.2 254.9,231.2 V283.4 H62.2 Z" fill="none" stroke="#555" stroke-width="0.75"/>
<path d="M62.2,229.2 H79 V233.8 H72.6 V283.4 H62.2 Z" fill="#fff"/>
<clipPath id="hc1"><path d="M62.2,229.2 H79 V233.8 H72.6 V283.4 H62.2 Z"/></clipPath>
<use href="#hl" clip-path="url(#hc1)"/>
<path d="M62.2,229.2 H79 V233.8 H72.6 V283.4 H62.2 Z" fill="none" stroke="#505050" stroke-width="0.7"/>
<path d="M67.2,233.8 H69 V279.2 H67.2 Z" fill="#fff" stroke="#4a4a4a" stroke-width="0.6"/>
<rect x="79" y="229.2" width="13.1" height="4.6" fill="#fff" stroke="#4a4a4a" stroke-width="0.8"/>
<path d="M72.6,233.8 H98.7 L101.5,283.4 H72.6 Z" fill="#fff" stroke="#4a4a4a" stroke-width="0.6"/>
<path d="M92.1,229.2 L106,229.2 Q110.5,229.2 110.5,233.7 L110.5,238.2 L106.3,238.2 L106.3,234.2 L102.6,234.2 L105.2,276.5 Q105.8,283.2 111.5,283.2 L136,283.2 L136,288.6 L108.5,288.6 Q101.6,288.3 101.2,280 L98.7,234.2 L92.1,234.2 Z" fill="#fff"/>
<clipPath id="hc2"><path d="M92.1,229.2 L106,229.2 Q110.5,229.2 110.5,233.7 L110.5,238.2 L106.3,238.2 L106.3,234.2 L102.6,234.2 L105.2,276.5 Q105.8,283.2 111.5,283.2 L136,283.2 L136,288.6 L108.5,288.6 Q101.6,288.3 101.2,280 L98.7,234.2 L92.1,234.2 Z"/></clipPath>
<use href="#hl" clip-path="url(#hc2)"/>
<path d="M92.1,229.2 L106,229.2 Q110.5,229.2 110.5,233.7 L110.5,238.2 L106.3,238.2 L106.3,234.2 L102.6,234.2 L105.2,276.5 Q105.8,283.2 111.5,283.2 L136,283.2 L136,288.6 L108.5,288.6 Q101.6,288.3 101.2,280 L98.7,234.2 L92.1,234.2 Z" fill="none" stroke="#505050" stroke-width="0.7"/>
<path d="M108.3,246.2 Q108.5,244.8 110.5,244.8 Q112.6,244.8 112.8,246.3 L114.6,262 Q115.6,269.7 122.5,269.7 L129,269.7 L135.2,275 L135.2,279.8 L129.5,274.3 L120,274.3 Q110.7,274 110.1,266 Z" fill="#fff"/>
<clipPath id="hc3"><path d="M108.3,246.2 Q108.5,244.8 110.5,244.8 Q112.6,244.8 112.8,246.3 L114.6,262 Q115.6,269.7 122.5,269.7 L129,269.7 L135.2,275 L135.2,279.8 L129.5,274.3 L120,274.3 Q110.7,274 110.1,266 Z"/></clipPath>
<use href="#hl" clip-path="url(#hc3)"/>
<path d="M108.3,246.2 Q108.5,244.8 110.5,244.8 Q112.6,244.8 112.8,246.3 L114.6,262 Q115.6,269.7 122.5,269.7 L129,269.7 L135.2,275 L135.2,279.8 L129.5,274.3 L120,274.3 Q110.7,274 110.1,266 Z" fill="none" stroke="#505050" stroke-width="0.7"/>
<path d="M152.9,270.2 L200,267.3 L237.4,265.6 Q241.2,264 242.3,260 L247.6,232.5 Q248.4,229.2 251,229.2 L252.9,229.2 Q254.9,229.2 254.9,231.2 L254.9,283.4 L242.3,283.4 Q238.5,273.5 232.5,271.7 L200,272.6 L158.5,275.5 L158.5,289.3 L152.9,289.3 Z" fill="#fff"/>
<clipPath id="hc4"><path d="M152.9,270.2 L200,267.3 L237.4,265.6 Q241.2,264 242.3,260 L247.6,232.5 Q248.4,229.2 251,229.2 L252.9,229.2 Q254.9,229.2 254.9,231.2 L254.9,283.4 L242.3,283.4 Q238.5,273.5 232.5,271.7 L200,272.6 L158.5,275.5 L158.5,289.3 L152.9,289.3 Z"/></clipPath>
<use href="#hl" clip-path="url(#hc4)"/>
<path d="M152.9,270.2 L200,267.3 L237.4,265.6 Q241.2,264 242.3,260 L247.6,232.5 Q248.4,229.2 251,229.2 L252.9,229.2 Q254.9,229.2 254.9,231.2 L254.9,283.4 L242.3,283.4 Q238.5,273.5 232.5,271.7 L200,272.6 L158.5,275.5 L158.5,289.3 L152.9,289.3 Z" fill="none" stroke="#505050" stroke-width="0.7"/>
<path d="M238.3,271.2 Q245,273 249.4,277.3 L249.6,244 Q248,258 238.3,271.2 Z" fill="#fff" stroke="#4a4a4a" stroke-width="0.6"/>
<rect x="135.2" y="270" width="17.5" height="19.5" fill="#fff" stroke="#4a4a4a" stroke-width="0.8"/>
<path d="M135.2,279.8 H146.6 V289.2 H140.5 V283.7 H135.2 Z" fill="#8ac0ea"/>
<line x1="140.5" y1="274.5" x2="140.5" y2="289" stroke="#777" stroke-width="0.6" stroke-dasharray="1.2,1"/>
<line x1="147.5" y1="274.5" x2="147.5" y2="289" stroke="#777" stroke-width="0.6" stroke-dasharray="1.2,1"/>
<rect x="130" y="270" width="27.5" height="4" fill="#fff" stroke="#666" stroke-width="0.5"/>
<path d="M129.1,270.2 Q131,265.4 143.5,265.4 Q156,265.4 158,270.2 Z" fill="#f5f5f5" stroke="#555" stroke-width="0.7"/>
<line x1="129.1" y1="270.2" x2="158" y2="270.2" stroke="#222" stroke-width="0.9"/>
<path d="M130.6,289.8 H156.8 Q157.1,292.7 153.8,294 H133.6 Q130.3,292.7 130.6,289.8 Z" fill="#f3f3f3" stroke="#4a4a4a" stroke-width="0.8"/>
<rect x="132.6" y="293.8" width="21.4" height="5.6" fill="#fff" stroke="#4a4a4a" stroke-width="0.8"/>
<line x1="136.5" y1="294.5" x2="136.5" y2="298.8" stroke="#666" stroke-width="0.6"/>
<line x1="143.8" y1="294.5" x2="143.8" y2="298.8" stroke="#666" stroke-width="0.6"/>
<line x1="150.5" y1="294.5" x2="150.5" y2="298.8" stroke="#666" stroke-width="0.6"/>
<rect x="133.2" y="299.4" width="20.8" height="16.9" fill="#fff" stroke="#4a4a4a" stroke-width="0.8"/>
<rect x="141.0" y="299.8" width="5.7" height="16.5" fill="#8ac0ea"/>
<line x1="137.4" y1="299.9" x2="137.4" y2="315.8" stroke="#999" stroke-width="0.5" stroke-dasharray="1.2,1"/>
<line x1="149.8" y1="299.9" x2="149.8" y2="315.8" stroke="#999" stroke-width="0.5" stroke-dasharray="1.2,1"/>
<path d="M81.50,326.30 L131.50,324.50 L131.50,338.50 L81.50,340.10 Z" fill="#fff" stroke="#4a4a4a" stroke-width="0.8"/>
<path d="M133.70,319.50 L154.70,319.50 L152.39,331.47 Q150.08,336.30 146.72,336.30 L131.50,336.30 L131.50,324.50 L134.60,324.50 Z" fill="#fff" stroke="none"/>
<path d="M133.70,319.50 Q133.90,322.50 134.60,324.50 L131.50,324.50" fill="none" stroke="#555" stroke-width="0.75"/>
<path d="M154.70,319.50 L152.39,331.47 Q150.08,336.30 146.72,336.30 L131.50,336.30" fill="none" stroke="#555" stroke-width="0.75"/>
<line x1="131.50" y1="324.50" x2="131.50" y2="338.50" fill="none" stroke="#555" stroke-width="0.75"/>
<line x1="134.10" y1="324.70" x2="142.52" y2="331.01" stroke="#333" stroke-width="0.7"/>
<rect x="129.5" y="316.3" width="29.0" height="2.9" rx="1.4" fill="#f3f3f3" stroke="#4a4a4a" stroke-width="0.8"/>
<g transform="translate(75.00,334.50) scale(1.000)">
<rect x="-21.5" y="24.6" width="9.5" height="14.8" fill="#fff" stroke="#4a4a4a" stroke-width="0.8"/>
<rect x="-29.7" y="23.5" width="8.8" height="16.9" rx="2" fill="#fff" stroke="#4a4a4a" stroke-width="0.8"/>
<rect x="-22.9" y="23.9" width="1.7" height="16.1" fill="#555"/>
<line x1="-26.5" y1="24" x2="-26.5" y2="40" stroke="#999" stroke-width="0.5"/>
<path d="M-12.8,22.85 V51 H7.8 V22.85 Z" fill="#fff" stroke="#4a4a4a" stroke-width="0.8"/>
<path d="M-14.7,51 V57 Q-14.7,67.2 -2.5,67.2 Q9.7,67.2 9.7,57 V51 Z" fill="#fff" stroke="#4a4a4a" stroke-width="0.8"/>
<rect x="-7.2" y="-10.3" width="14.4" height="26.9" fill="#fff" stroke="#4a4a4a" stroke-width="0.8"/>
<path d="M-4.7,-22.2 H5.3 L4.3,-18.2 H5.3 L4.3,-14.2 H5.3 L4.3,-10.3 H-3.7 L-4.7,-14.2 H-3.7 L-4.7,-18.2 H-3.7 Z" fill="#fff" stroke="#4a4a4a" stroke-width="0.8"/>
<line x1="-4.7" y1="-18.2" x2="5.3" y2="-18.2" stroke="#4a4a4a" stroke-width="0.6"/>
<line x1="-4.7" y1="-14.2" x2="5.3" y2="-14.2" stroke="#4a4a4a" stroke-width="0.6"/>
<rect x="-10.3" y="16" width="20.6" height="6.85" rx="1.2" fill="#fff" stroke="#4a4a4a" stroke-width="0.8"/>
<line x1="-7.2" y1="17.4" x2="-7.2" y2="21.6" stroke="#4a4a4a" stroke-width="0.7"/>
<line x1="0.2" y1="17.4" x2="0.2" y2="21.6" stroke="#4a4a4a" stroke-width="0.7"/>
<line x1="7.0" y1="17.4" x2="7.0" y2="21.6" stroke="#4a4a4a" stroke-width="0.7"/>
<line x1="-10.3" y1="17.3" x2="10.3" y2="17.3" stroke="#888" stroke-width="0.4"/>
</g>
<circle cx="75.00" cy="334.50" r="5.00" fill="#fff" stroke="#3a3a3a" stroke-width="1.4"/>
<path d="M143.8,319 V326 Q143.8,332.6 136,332.8 L117,332.6" fill="none" stroke="#62aee8" stroke-width="1.5"/>
<path d="M111.50,332.50 L118.50,329.80 L118.50,335.20 Z" fill="#62aee8"/>
<line x1="216.5" y1="321" x2="154" y2="283.6" stroke="#1a1a1a" stroke-width="1.25"/>
<path d="M149.8,281 L157.6,282.5 L154.8,287.3 Z" fill="#111"/>
<circle cx="241.7" cy="332.7" r="28.2" fill="#fff" stroke="#2a2a2a" stroke-width="1.5"/>
<path d="M232.10,317.15 Q233.10,314.25 241.40,314.25 Q249.70,314.25 250.70,317.15 Z" fill="#fff" stroke="#8c8c8c" stroke-width="0.7"/>
<rect x="233.20" y="317.15" width="16.40" height="4.25" fill="#fff" stroke="#8c8c8c" stroke-width="0.6"/>
<line x1="232.70" y1="317.15" x2="250.10" y2="317.15" stroke="#7a7a7a" stroke-width="0.80"/>
<line x1="232.70" y1="319.60" x2="250.10" y2="319.60" stroke="#7a7a7a" stroke-width="0.80"/>
<line x1="232.70" y1="321.40" x2="250.10" y2="321.40" stroke="#7a7a7a" stroke-width="1.00"/>
<line x1="232.70" y1="322.85" x2="250.10" y2="322.85" stroke="#7a7a7a" stroke-width="0.70"/>
<line x1="235.60" y1="317.15" x2="235.60" y2="319.60" stroke="#8c8c8c" stroke-width="0.5"/>
<line x1="247.20" y1="317.15" x2="247.20" y2="319.60" stroke="#8c8c8c" stroke-width="0.5"/>
<rect x="234.90" y="323.00" width="12.8" height="8.75" fill="#5e5e5e"/>
<line x1="234.90" y1="324.00" x2="247.70" y2="324.00" stroke="#8a8a8a" stroke-width="0.45"/>
<line x1="234.90" y1="325.30" x2="247.70" y2="325.30" stroke="#8a8a8a" stroke-width="0.45"/>
<line x1="234.90" y1="326.60" x2="247.70" y2="326.60" stroke="#8a8a8a" stroke-width="0.45"/>
<line x1="234.90" y1="327.90" x2="247.70" y2="327.90" stroke="#8a8a8a" stroke-width="0.45"/>
<line x1="234.90" y1="329.20" x2="247.70" y2="329.20" stroke="#8a8a8a" stroke-width="0.45"/>
<line x1="234.90" y1="330.50" x2="247.70" y2="330.50" stroke="#8a8a8a" stroke-width="0.45"/>
<rect x="237.70" y="328.95" width="7.2" height="1.9" fill="#fff" stroke="#444" stroke-width="0.4"/>
<rect x="232.10" y="332.00" width="18.8" height="2.6" fill="#f28a84" stroke="#e8383a" stroke-width="0.6"/>
<rect x="234.30" y="334.90" width="14.2" height="1.7" fill="#fff" stroke="#e8383a" stroke-width="0.5" stroke-dasharray="1.6,0.8"/>
<rect x="235.00" y="336.75" width="12.8" height="16.85" fill="#fff" stroke="#e8383a" stroke-width="0.6"/>
<rect x="235.00" y="350.70" width="12.8" height="2.9" fill="#e8383a"/>
<path d="M74.85,448.6 L74.85,448.80 L75.85,449.01 L76.85,449.19 L77.85,449.31 L78.84,449.35 L79.84,449.31 L80.84,449.19 L81.84,449.01 L82.84,448.80 L83.84,448.59 L84.84,448.41 L85.84,448.29 L86.84,448.25 L87.84,448.29 L88.84,448.41 L89.84,448.59 L90.84,448.80 L91.84,449.01 L92.84,449.19 L93.83,449.31 L94.83,449.35 L95.83,449.31 L96.83,449.19 L97.83,449.01 L98.83,448.80 L99.83,448.59 L100.83,448.41 L101.83,448.29 L102.83,448.25 L103.83,448.29 L104.83,448.41 L105.83,448.59 L106.83,448.80 L107.83,449.01 L108.83,449.19 L109.82,449.31 L110.82,449.35 L111.82,449.31 L112.82,449.19 L113.82,449.02 L114.82,448.81 L115.82,448.59 L116.82,448.42 L117.82,448.29 L118.82,448.25 L119.82,448.29 L120.82,448.41 L121.82,448.58 L122.82,448.79 L123.82,449.00 L124.82,449.18 L125.81,449.31 L126.81,449.35 L127.81,449.31 L128.81,449.19 L129.81,449.02 L130.81,448.81 L131.81,448.60 L132.81,448.42 L133.81,448.30 L134.81,448.25 L135.81,448.29 L136.81,448.41 L137.81,448.58 L138.81,448.79 L139.81,449.00 L140.81,449.18 L141.80,449.30 L142.80,449.35 L143.80,449.31 L144.80,449.20 L145.80,449.02 L146.80,448.81 L147.80,448.60 L148.80,448.42 L149.80,448.30 L150.80,448.25 L151.80,448.29 L152.80,448.40 L153.80,448.58 L154.80,448.79 L155.80,449.00 L156.79,449.18 L157.79,449.30 L158.79,449.35 L159.79,449.31 L160.79,449.20 L161.79,449.02 L162.79,448.81 L163.79,448.60 L164.79,448.42 L165.79,448.30 L166.79,448.25 L167.79,448.29 L168.79,448.40 L169.79,448.58 L170.79,448.79 L171.79,449.00 L172.78,449.18 L173.78,449.30 L174.78,449.35 L175.78,449.31 L176.78,449.20 L177.78,449.02 L178.78,448.81 L179.78,448.60 L180.78,448.42 L181.78,448.30 L182.78,448.25 L183.78,448.29 L184.78,448.40 L185.78,448.58 L186.78,448.78 L187.78,449.00 L188.77,449.18 L189.77,449.30 L190.77,449.35 L191.77,449.31 L192.77,449.20 L193.77,449.03 L194.77,448.82 L195.77,448.60 L196.77,448.42 L197.77,448.30 L198.77,448.25 L199.77,448.29 L200.77,448.40 L201.77,448.57 L202.77,448.78 L203.77,448.99 L204.76,449.18 L205.76,449.30 L206.76,449.35 L207.76,449.31 L208.76,449.20 L209.76,449.03 L210.76,448.82 L211.76,448.61 L212.76,448.42 L213.76,448.30 L214.76,448.25 L215.76,448.28 L216.76,448.40 L217.76,448.57 L218.76,448.78 L219.75,448.99 L220.75,449.17 L221.75,449.30 L222.75,449.35 L222.25,450.10 L221.14,451.20 L220.03,452.27 L218.93,453.31 L217.82,454.33 L216.71,455.32 L215.60,456.29 L214.50,457.22 L213.39,458.13 L212.28,459.02 L211.16,459.87 L210.05,460.70 L208.93,461.51 L207.81,462.29 L206.68,463.04 L205.55,463.76 L204.41,464.46 L203.28,465.14 L202.13,465.79 L200.98,466.41 L199.82,467.01 L198.66,467.58 L197.48,468.12 L196.31,468.64 L195.12,469.14 L193.92,469.61 L192.72,470.06 L191.50,470.48 L190.28,470.87 L189.05,471.24 L187.80,471.59 L186.55,471.91 L185.28,472.21 L184.00,472.48 L182.71,472.73 L181.40,472.96 L180.09,473.16 L178.75,473.33 L177.41,473.49 L176.05,473.62 L174.68,473.72 L173.29,473.80 L171.88,473.86 L170.46,473.90 L169.02,473.91 L167.56,473.89 L166.09,473.86 L164.60,473.80 L133.00,473.80 L131.51,473.86 L130.04,473.89 L128.58,473.91 L127.14,473.90 L125.72,473.86 L124.31,473.80 L122.92,473.72 L121.55,473.62 L120.19,473.49 L118.85,473.33 L117.51,473.16 L116.20,472.96 L114.89,472.73 L113.60,472.48 L112.32,472.21 L111.05,471.91 L109.80,471.59 L108.55,471.24 L107.32,470.87 L106.10,470.48 L104.88,470.06 L103.68,469.61 L102.48,469.14 L101.29,468.64 L100.12,468.12 L98.94,467.58 L97.78,467.01 L96.62,466.41 L95.47,465.79 L94.33,465.14 L93.19,464.46 L92.05,463.76 L90.92,463.04 L89.79,462.29 L88.67,461.51 L87.55,460.70 L86.44,459.87 L85.32,459.02 L84.21,458.13 L83.10,457.22 L82.00,456.29 L80.89,455.32 L79.78,454.33 L78.67,453.31 L77.57,452.27 L76.46,451.20 L75.35,450.10 Z" fill="#8ac0ea"/>
<line x1="60.6" y1="432.3" x2="237" y2="432.3" fill="none" stroke="#555" stroke-width="0.75"/>
<rect x="35.7" y="488.5" width="96.5" height="5" fill="#fff" stroke="#4a4a4a" stroke-width="0.8"/>
<rect x="165.5" y="488.5" width="96.1" height="5" fill="#fff" stroke="#4a4a4a" stroke-width="0.8"/>
<g>
<path d="M60.6,432.3 L73.6,488 L89.9,488 C105,488 120,482.5 133,482.3 L137.5,482.3 L137.5,477.5 L133,472.8 L131.51,472.86 L130.04,472.89 L128.58,472.91 L127.14,472.90 L125.72,472.86 L124.31,472.80 L122.92,472.72 L121.55,472.62 L120.19,472.49 L118.85,472.33 L117.51,472.16 L116.20,471.96 L114.89,471.73 L113.60,471.48 L112.32,471.21 L111.05,470.91 L109.80,470.59 L108.55,470.24 L107.32,469.87 L106.10,469.48 L104.88,469.06 L103.68,468.61 L102.48,468.14 L101.29,467.64 L100.12,467.12 L98.94,466.58 L97.78,466.01 L96.62,465.41 L95.47,464.79 L94.33,464.14 L93.19,463.46 L92.05,462.76 L90.92,462.04 L89.79,461.29 L88.67,460.51 L87.55,459.70 L86.44,458.87 L85.32,458.02 L84.21,457.13 L83.10,456.22 L82.00,455.29 L80.89,454.32 L79.78,453.33 L78.67,452.31 L77.57,451.27 L76.46,450.20 L75.35,449.10 L74.24,447.97 L73.12,446.82 L72.00,445.64 L70.88,444.43 L69.76,443.20 L68.63,441.93 L67.50,440.64 L66.37,439.32 L65.23,437.97 L64.08,436.60 L62.93,435.19 L61.77,433.76 L60.60,432.30 Z" fill="#fff"/>
<clipPath id="hc5"><path d="M60.6,432.3 L73.6,488 L89.9,488 C105,488 120,482.5 133,482.3 L137.5,482.3 L137.5,477.5 L133,472.8 L131.51,472.86 L130.04,472.89 L128.58,472.91 L127.14,472.90 L125.72,472.86 L124.31,472.80 L122.92,472.72 L121.55,472.62 L120.19,472.49 L118.85,472.33 L117.51,472.16 L116.20,471.96 L114.89,471.73 L113.60,471.48 L112.32,471.21 L111.05,470.91 L109.80,470.59 L108.55,470.24 L107.32,469.87 L106.10,469.48 L104.88,469.06 L103.68,468.61 L102.48,468.14 L101.29,467.64 L100.12,467.12 L98.94,466.58 L97.78,466.01 L96.62,465.41 L95.47,464.79 L94.33,464.14 L93.19,463.46 L92.05,462.76 L90.92,462.04 L89.79,461.29 L88.67,460.51 L87.55,459.70 L86.44,458.87 L85.32,458.02 L84.21,457.13 L83.10,456.22 L82.00,455.29 L80.89,454.32 L79.78,453.33 L78.67,452.31 L77.57,451.27 L76.46,450.20 L75.35,449.10 L74.24,447.97 L73.12,446.82 L72.00,445.64 L70.88,444.43 L69.76,443.20 L68.63,441.93 L67.50,440.64 L66.37,439.32 L65.23,437.97 L64.08,436.60 L62.93,435.19 L61.77,433.76 L60.60,432.30 Z"/></clipPath>
<use href="#hl" clip-path="url(#hc5)"/>
<path d="M60.6,432.3 L73.6,488 L89.9,488 C105,488 120,482.5 133,482.3 L137.5,482.3 L137.5,477.5 L133,472.8 L131.51,472.86 L130.04,472.89 L128.58,472.91 L127.14,472.90 L125.72,472.86 L124.31,472.80 L122.92,472.72 L121.55,472.62 L120.19,472.49 L118.85,472.33 L117.51,472.16 L116.20,471.96 L114.89,471.73 L113.60,471.48 L112.32,471.21 L111.05,470.91 L109.80,470.59 L108.55,470.24 L107.32,469.87 L106.10,469.48 L104.88,469.06 L103.68,468.61 L102.48,468.14 L101.29,467.64 L100.12,467.12 L98.94,466.58 L97.78,466.01 L96.62,465.41 L95.47,464.79 L94.33,464.14 L93.19,463.46 L92.05,462.76 L90.92,462.04 L89.79,461.29 L88.67,460.51 L87.55,459.70 L86.44,458.87 L85.32,458.02 L84.21,457.13 L83.10,456.22 L82.00,455.29 L80.89,454.32 L79.78,453.33 L78.67,452.31 L77.57,451.27 L76.46,450.20 L75.35,449.10 L74.24,447.97 L73.12,446.82 L72.00,445.64 L70.88,444.43 L69.76,443.20 L68.63,441.93 L67.50,440.64 L66.37,439.32 L65.23,437.97 L64.08,436.60 L62.93,435.19 L61.77,433.76 L60.60,432.30 Z" fill="none" stroke="#505050" stroke-width="0.7"/>
<path d="M98.34,471.04 L97.09,470.46 L95.85,469.85 L94.61,469.21 L93.39,468.55 L92.17,467.86 L90.96,467.14 L89.76,466.40 L88.56,465.63 L87.38,464.84 L86.19,464.02 L85.01,463.17 L83.84,462.30 L82.67,461.40 L81.51,460.48 L80.35,459.53 L79.20,458.55 L78.04,457.55 L76.89,456.52 L75.74,455.46 L74.60,454.38 L73.45,453.27 L72.30,452.14 L71.16,450.98 L70.01,449.79 L76.10,479 C84,478.3 92,476.5 98.64,472.24 Z" fill="#fff" stroke="#4a4a4a" stroke-width="0.7"/>
</g>
<g transform="translate(297.6,0) scale(-1,1)">
<path d="M60.6,432.3 L73.6,488 L89.9,488 C105,488 120,482.5 133,482.3 L137.5,482.3 L137.5,477.5 L133,472.8 L131.51,472.86 L130.04,472.89 L128.58,472.91 L127.14,472.90 L125.72,472.86 L124.31,472.80 L122.92,472.72 L121.55,472.62 L120.19,472.49 L118.85,472.33 L117.51,472.16 L116.20,471.96 L114.89,471.73 L113.60,471.48 L112.32,471.21 L111.05,470.91 L109.80,470.59 L108.55,470.24 L107.32,469.87 L106.10,469.48 L104.88,469.06 L103.68,468.61 L102.48,468.14 L101.29,467.64 L100.12,467.12 L98.94,466.58 L97.78,466.01 L96.62,465.41 L95.47,464.79 L94.33,464.14 L93.19,463.46 L92.05,462.76 L90.92,462.04 L89.79,461.29 L88.67,460.51 L87.55,459.70 L86.44,458.87 L85.32,458.02 L84.21,457.13 L83.10,456.22 L82.00,455.29 L80.89,454.32 L79.78,453.33 L78.67,452.31 L77.57,451.27 L76.46,450.20 L75.35,449.10 L74.24,447.97 L73.12,446.82 L72.00,445.64 L70.88,444.43 L69.76,443.20 L68.63,441.93 L67.50,440.64 L66.37,439.32 L65.23,437.97 L64.08,436.60 L62.93,435.19 L61.77,433.76 L60.60,432.30 Z" fill="#fff"/>
<clipPath id="hc6"><path d="M60.6,432.3 L73.6,488 L89.9,488 C105,488 120,482.5 133,482.3 L137.5,482.3 L137.5,477.5 L133,472.8 L131.51,472.86 L130.04,472.89 L128.58,472.91 L127.14,472.90 L125.72,472.86 L124.31,472.80 L122.92,472.72 L121.55,472.62 L120.19,472.49 L118.85,472.33 L117.51,472.16 L116.20,471.96 L114.89,471.73 L113.60,471.48 L112.32,471.21 L111.05,470.91 L109.80,470.59 L108.55,470.24 L107.32,469.87 L106.10,469.48 L104.88,469.06 L103.68,468.61 L102.48,468.14 L101.29,467.64 L100.12,467.12 L98.94,466.58 L97.78,466.01 L96.62,465.41 L95.47,464.79 L94.33,464.14 L93.19,463.46 L92.05,462.76 L90.92,462.04 L89.79,461.29 L88.67,460.51 L87.55,459.70 L86.44,458.87 L85.32,458.02 L84.21,457.13 L83.10,456.22 L82.00,455.29 L80.89,454.32 L79.78,453.33 L78.67,452.31 L77.57,451.27 L76.46,450.20 L75.35,449.10 L74.24,447.97 L73.12,446.82 L72.00,445.64 L70.88,444.43 L69.76,443.20 L68.63,441.93 L67.50,440.64 L66.37,439.32 L65.23,437.97 L64.08,436.60 L62.93,435.19 L61.77,433.76 L60.60,432.30 Z"/></clipPath>
<use href="#hlm" clip-path="url(#hc6)"/>
<path d="M60.6,432.3 L73.6,488 L89.9,488 C105,488 120,482.5 133,482.3 L137.5,482.3 L137.5,477.5 L133,472.8 L131.51,472.86 L130.04,472.89 L128.58,472.91 L127.14,472.90 L125.72,472.86 L124.31,472.80 L122.92,472.72 L121.55,472.62 L120.19,472.49 L118.85,472.33 L117.51,472.16 L116.20,471.96 L114.89,471.73 L113.60,471.48 L112.32,471.21 L111.05,470.91 L109.80,470.59 L108.55,470.24 L107.32,469.87 L106.10,469.48 L104.88,469.06 L103.68,468.61 L102.48,468.14 L101.29,467.64 L100.12,467.12 L98.94,466.58 L97.78,466.01 L96.62,465.41 L95.47,464.79 L94.33,464.14 L93.19,463.46 L92.05,462.76 L90.92,462.04 L89.79,461.29 L88.67,460.51 L87.55,459.70 L86.44,458.87 L85.32,458.02 L84.21,457.13 L83.10,456.22 L82.00,455.29 L80.89,454.32 L79.78,453.33 L78.67,452.31 L77.57,451.27 L76.46,450.20 L75.35,449.10 L74.24,447.97 L73.12,446.82 L72.00,445.64 L70.88,444.43 L69.76,443.20 L68.63,441.93 L67.50,440.64 L66.37,439.32 L65.23,437.97 L64.08,436.60 L62.93,435.19 L61.77,433.76 L60.60,432.30 Z" fill="none" stroke="#505050" stroke-width="0.7"/>
<path d="M98.34,471.04 L97.09,470.46 L95.85,469.85 L94.61,469.21 L93.39,468.55 L92.17,467.86 L90.96,467.14 L89.76,466.40 L88.56,465.63 L87.38,464.84 L86.19,464.02 L85.01,463.17 L83.84,462.30 L82.67,461.40 L81.51,460.48 L80.35,459.53 L79.20,458.55 L78.04,457.55 L76.89,456.52 L75.74,455.46 L74.60,454.38 L73.45,453.27 L72.30,452.14 L71.16,450.98 L70.01,449.79 L76.10,479 C84,478.3 92,476.5 98.64,472.24 Z" fill="#fff" stroke="#4a4a4a" stroke-width="0.7"/>
</g>
<rect x="137.5" y="477" width="23" height="5" fill="#fff" stroke="#4a4a4a" stroke-width="0.8"/>
<rect x="145" y="477" width="7" height="5" fill="#8ac0ea"/>
<rect x="140" y="467" width="18" height="5.5" fill="#fff" stroke="#4a4a4a" stroke-width="0.8"/>
<rect x="140.5" y="470.2" width="17" height="2" fill="#1a1a1a"/>
<path d="M134,467 Q136,462.5 149,462.5 Q162,462.5 164,467 Z" fill="#f3f3f3" stroke="#4a4a4a" stroke-width="0.8"/>
<path d="M133,482.5 H164.5 Q164.8,486.3 160.8,488 H136.7 Q132.7,486.3 133,482.5 Z" fill="#f3f3f3" stroke="#4a4a4a" stroke-width="0.8"/>
<line x1="134" y1="485.3" x2="163.5" y2="485.3" stroke="#999" stroke-width="0.4"/>
<rect x="137.5" y="488" width="23.5" height="3" fill="#fff" stroke="#4a4a4a" stroke-width="0.8"/>
<line x1="142" y1="488.3" x2="142" y2="490.8" stroke="#666" stroke-width="0.5"/>
<line x1="155" y1="488.3" x2="155" y2="490.8" stroke="#666" stroke-width="0.5"/>
<rect x="138.0" y="491.0" width="20.5" height="17.5" fill="#fff" stroke="#4a4a4a" stroke-width="0.8"/>
<rect x="145.5" y="491.4" width="6.0" height="17.1" fill="#8ac0ea"/>
<line x1="142.1" y1="491.5" x2="142.1" y2="508.0" stroke="#999" stroke-width="0.5" stroke-dasharray="1.2,1"/>
<line x1="154.4" y1="491.5" x2="154.4" y2="508.0" stroke="#999" stroke-width="0.5" stroke-dasharray="1.2,1"/>
<path d="M84.00,517.50 L136.00,516.50 L136.00,530.50 L84.00,532.30 Z" fill="#fff" stroke="#4a4a4a" stroke-width="0.8"/>
<path d="M138.50,511.00 L158.50,511.00 L156.30,523.20 Q154.10,527.80 150.90,527.80 L136.00,527.80 L136.00,516.50 L139.40,516.50 Z" fill="#fff" stroke="none"/>
<path d="M138.50,511.00 Q138.70,514.50 139.40,516.50 L136.00,516.50" fill="none" stroke="#555" stroke-width="0.75"/>
<path d="M158.50,511.00 L156.30,523.20 Q154.10,527.80 150.90,527.80 L136.00,527.80" fill="none" stroke="#555" stroke-width="0.75"/>
<line x1="136.00" y1="516.50" x2="136.00" y2="530.50" fill="none" stroke="#555" stroke-width="0.75"/>
<line x1="138.90" y1="516.70" x2="146.90" y2="522.70" stroke="#333" stroke-width="0.7"/>
<rect x="134.5" y="508.5" width="29.0" height="2.7" rx="1.4" fill="#f3f3f3" stroke="#4a4a4a" stroke-width="0.8"/>
<g transform="translate(80.30,525.90) scale(1.000)">
<rect x="-21.5" y="24.6" width="9.5" height="14.8" fill="#fff" stroke="#4a4a4a" stroke-width="0.8"/>
<rect x="-29.7" y="23.5" width="8.8" height="16.9" rx="2" fill="#fff" stroke="#4a4a4a" stroke-width="0.8"/>
<rect x="-22.9" y="23.9" width="1.7" height="16.1" fill="#555"/>
<line x1="-26.5" y1="24" x2="-26.5" y2="40" stroke="#999" stroke-width="0.5"/>
<path d="M-12.8,22.85 V51 H7.8 V22.85 Z" fill="#fff" stroke="#4a4a4a" stroke-width="0.8"/>
<path d="M-14.7,51 V57 Q-14.7,67.2 -2.5,67.2 Q9.7,67.2 9.7,57 V51 Z" fill="#fff" stroke="#4a4a4a" stroke-width="0.8"/>
<rect x="-7.2" y="-10.3" width="14.4" height="26.9" fill="#fff" stroke="#4a4a4a" stroke-width="0.8"/>
<path d="M-4.7,-22.2 H5.3 L4.3,-18.2 H5.3 L4.3,-14.2 H5.3 L4.3,-10.3 H-3.7 L-4.7,-14.2 H-3.7 L-4.7,-18.2 H-3.7 Z" fill="#fff" stroke="#4a4a4a" stroke-width="0.8"/>
<line x1="-4.7" y1="-18.2" x2="5.3" y2="-18.2" stroke="#4a4a4a" stroke-width="0.6"/>
<line x1="-4.7" y1="-14.2" x2="5.3" y2="-14.2" stroke="#4a4a4a" stroke-width="0.6"/>
<rect x="-10.3" y="16" width="20.6" height="6.85" rx="1.2" fill="#fff" stroke="#4a4a4a" stroke-width="0.8"/>
<line x1="-7.2" y1="17.4" x2="-7.2" y2="21.6" stroke="#4a4a4a" stroke-width="0.7"/>
<line x1="0.2" y1="17.4" x2="0.2" y2="21.6" stroke="#4a4a4a" stroke-width="0.7"/>
<line x1="7.0" y1="17.4" x2="7.0" y2="21.6" stroke="#4a4a4a" stroke-width="0.7"/>
<line x1="-10.3" y1="17.3" x2="10.3" y2="17.3" stroke="#888" stroke-width="0.4"/>
</g>
<circle cx="80.30" cy="525.90" r="5.00" fill="#fff" stroke="#3a3a3a" stroke-width="1.4"/>
<path d="M148.5,511 V519 Q148.5,524.5 141,524.8 L122,525.2" fill="none" stroke="#62aee8" stroke-width="1.5"/>
<path d="M116.40,525.30 L123.40,522.60 L123.40,528.00 Z" fill="#62aee8"/>
<line x1="216.5" y1="527.6" x2="165" y2="494" stroke="#1a1a1a" stroke-width="1.25"/>
<path d="M160.75,491.25 L168.5,493 L165.5,497.6 Z" fill="#111"/>
<circle cx="241.7" cy="539.2" r="28" fill="#fff" stroke="#2a2a2a" stroke-width="1.5"/>
<path d="M232.10,523.90 Q233.10,521.00 241.40,521.00 Q249.70,521.00 250.70,523.90 Z" fill="#fff" stroke="#8c8c8c" stroke-width="0.7"/>
<rect x="233.20" y="523.90" width="16.40" height="4.50" fill="#fff" stroke="#8c8c8c" stroke-width="0.6"/>
<line x1="232.70" y1="523.90" x2="250.10" y2="523.90" stroke="#7a7a7a" stroke-width="0.80"/>
<line x1="232.70" y1="526.60" x2="250.10" y2="526.60" stroke="#7a7a7a" stroke-width="1.00"/>
<line x1="232.70" y1="528.40" x2="250.10" y2="528.40" stroke="#7a7a7a" stroke-width="0.80"/>
<line x1="232.70" y1="529.70" x2="250.10" y2="529.70" stroke="#7a7a7a" stroke-width="0.70"/>
<line x1="235.60" y1="523.90" x2="235.60" y2="526.35" stroke="#8c8c8c" stroke-width="0.5"/>
<line x1="247.20" y1="523.90" x2="247.20" y2="526.35" stroke="#8c8c8c" stroke-width="0.5"/>
<rect x="234.90" y="530.00" width="12.8" height="4.00" fill="#5e5e5e"/>
<line x1="234.90" y1="531.00" x2="247.70" y2="531.00" stroke="#8a8a8a" stroke-width="0.45"/>
<line x1="234.90" y1="532.30" x2="247.70" y2="532.30" stroke="#8a8a8a" stroke-width="0.45"/>
<rect x="232.10" y="534.00" width="18.8" height="2.6" fill="#f28a84" stroke="#e8383a" stroke-width="0.6"/>
<rect x="234.30" y="537.80" width="14.2" height="1.7" fill="#fff" stroke="#e8383a" stroke-width="0.5" stroke-dasharray="1.6,0.8"/>
<rect x="235.00" y="539.40" width="12.8" height="17.20" fill="#fff" stroke="#e8383a" stroke-width="0.6"/>
<rect x="235.00" y="553.70" width="12.8" height="2.9" fill="#e8383a"/>
<g transform="translate(257,202.15) scale(1.065)">
<path d="M103.5,249.3 L112,249.3 L112,274 L136,274 L136,284 L103.5,284 Z" fill="#8fc99b"/>
<path d="M62.2,229.2 H252.9 Q254.9,229.2 254.9,231.2 V283.4 H62.2 Z" fill="none" stroke="#555" stroke-width="0.75"/>
<path d="M62.2,229.2 H79 V233.8 H72.6 V283.4 H62.2 Z" fill="#fff"/>
<clipPath id="hc7"><path d="M62.2,229.2 H79 V233.8 H72.6 V283.4 H62.2 Z"/></clipPath>
<use href="#hl" clip-path="url(#hc7)"/>
<path d="M62.2,229.2 H79 V233.8 H72.6 V283.4 H62.2 Z" fill="none" stroke="#505050" stroke-width="0.7"/>
<path d="M67.2,233.8 H69 V279.2 H67.2 Z" fill="#fff" stroke="#4a4a4a" stroke-width="0.6"/>
<rect x="79" y="229.2" width="13.1" height="4.6" fill="#fff" stroke="#4a4a4a" stroke-width="0.8"/>
<path d="M72.6,233.8 H98.7 L101.5,283.4 H72.6 Z" fill="#fff" stroke="#4a4a4a" stroke-width="0.6"/>
<path d="M92.1,229.2 L106,229.2 Q110.5,229.2 110.5,233.7 L110.5,238.2 L106.3,238.2 L106.3,234.2 L102.6,234.2 L105.2,276.5 Q105.8,283.2 111.5,283.2 L136,283.2 L136,288.6 L108.5,288.6 Q101.6,288.3 101.2,280 L98.7,234.2 L92.1,234.2 Z" fill="#fff"/>
<clipPath id="hc8"><path d="M92.1,229.2 L106,229.2 Q110.5,229.2 110.5,233.7 L110.5,238.2 L106.3,238.2 L106.3,234.2 L102.6,234.2 L105.2,276.5 Q105.8,283.2 111.5,283.2 L136,283.2 L136,288.6 L108.5,288.6 Q101.6,288.3 101.2,280 L98.7,234.2 L92.1,234.2 Z"/></clipPath>
<use href="#hl" clip-path="url(#hc8)"/>
<path d="M92.1,229.2 L106,229.2 Q110.5,229.2 110.5,233.7 L110.5,238.2 L106.3,238.2 L106.3,234.2 L102.6,234.2 L105.2,276.5 Q105.8,283.2 111.5,283.2 L136,283.2 L136,288.6 L108.5,288.6 Q101.6,288.3 101.2,280 L98.7,234.2 L92.1,234.2 Z" fill="none" stroke="#505050" stroke-width="0.7"/>
<path d="M108.3,246.2 Q108.5,244.8 110.5,244.8 Q112.6,244.8 112.8,246.3 L114.6,262 Q115.6,269.7 122.5,269.7 L129,269.7 L135.2,275 L135.2,279.8 L129.5,274.3 L120,274.3 Q110.7,274 110.1,266 Z" fill="#fff"/>
<clipPath id="hc9"><path d="M108.3,246.2 Q108.5,244.8 110.5,244.8 Q112.6,244.8 112.8,246.3 L114.6,262 Q115.6,269.7 122.5,269.7 L129,269.7 L135.2,275 L135.2,279.8 L129.5,274.3 L120,274.3 Q110.7,274 110.1,266 Z"/></clipPath>
<use href="#hl" clip-path="url(#hc9)"/>
<path d="M108.3,246.2 Q108.5,244.8 110.5,244.8 Q112.6,244.8 112.8,246.3 L114.6,262 Q115.6,269.7 122.5,269.7 L129,269.7 L135.2,275 L135.2,279.8 L129.5,274.3 L120,274.3 Q110.7,274 110.1,266 Z" fill="none" stroke="#505050" stroke-width="0.7"/>
<path d="M152.9,270.2 L200,267.3 L237.4,265.6 Q241.2,264 242.3,260 L247.6,232.5 Q248.4,229.2 251,229.2 L252.9,229.2 Q254.9,229.2 254.9,231.2 L254.9,283.4 L242.3,283.4 Q238.5,273.5 232.5,271.7 L200,272.6 L158.5,275.5 L158.5,289.3 L152.9,289.3 Z" fill="#fff"/>
<clipPath id="hc10"><path d="M152.9,270.2 L200,267.3 L237.4,265.6 Q241.2,264 242.3,260 L247.6,232.5 Q248.4,229.2 251,229.2 L252.9,229.2 Q254.9,229.2 254.9,231.2 L254.9,283.4 L242.3,283.4 Q238.5,273.5 232.5,271.7 L200,272.6 L158.5,275.5 L158.5,289.3 L152.9,289.3 Z"/></clipPath>
<use href="#hl" clip-path="url(#hc10)"/>
<path d="M152.9,270.2 L200,267.3 L237.4,265.6 Q241.2,264 242.3,260 L247.6,232.5 Q248.4,229.2 251,229.2 L252.9,229.2 Q254.9,229.2 254.9,231.2 L254.9,283.4 L242.3,283.4 Q238.5,273.5 232.5,271.7 L200,272.6 L158.5,275.5 L158.5,289.3 L152.9,289.3 Z" fill="none" stroke="#505050" stroke-width="0.7"/>
<path d="M238.3,271.2 Q245,273 249.4,277.3 L249.6,244 Q248,258 238.3,271.2 Z" fill="#fff" stroke="#4a4a4a" stroke-width="0.6"/>
<rect x="135.2" y="270" width="17.5" height="19.5" fill="#fff" stroke="#4a4a4a" stroke-width="0.8"/>
<line x1="140.5" y1="274.5" x2="140.5" y2="289" stroke="#777" stroke-width="0.6" stroke-dasharray="1.2,1"/>
<line x1="147.5" y1="274.5" x2="147.5" y2="289" stroke="#777" stroke-width="0.6" stroke-dasharray="1.2,1"/>
<rect x="135.5" y="264" width="17" height="6.2" fill="#fff" stroke="#4a4a4a" stroke-width="0.8"/>
<rect x="136.2" y="266.3" width="15.6" height="3.4" rx="0.8" fill="#1e1e1e"/>
<line x1="136.2" y1="267.6" x2="151.8" y2="267.6" stroke="#777" stroke-width="0.4"/>
<path d="M129,264.2 Q131,259.8 144,259.8 Q157,259.8 159,264.2 Z" fill="#f3f3f3" stroke="#4a4a4a" stroke-width="0.8"/>
</g>
<path d="M373.4,434.4 C371.5,437.5 371.5,440.5 374,443.5 C377,447 378.5,450.5 377.5,456" fill="none" stroke="#8fcf9a" stroke-width="1.05"/>
<path d="M377.5,429.4 C375.5,433 375.5,437 378,441 C381,445 383,450 381,455 C380,458 379,459.5 378.1,460.6" fill="none" stroke="#8fcf9a" stroke-width="1.05"/>
<path d="M383.4,433.4 C381.5,437 381.5,440 384,443.5 C386.5,447 387.5,451 386,454 C385.5,455.5 385,456.2 384.4,456.9" fill="none" stroke="#8fcf9a" stroke-width="1.05"/>
<path d="M395.5,511.5 H424 Q424.3,515 420.6,516.5 H398.9 Q395.2,515 395.5,511.5 Z" fill="#f3f3f3" stroke="#4a4a4a" stroke-width="0.8"/>
<rect x="398.5" y="516.5" width="23" height="3" fill="#fff" stroke="#4a4a4a" stroke-width="0.8"/>
<rect x="400.0" y="519.5" width="20.0" height="5.5" fill="#fff" stroke="#4a4a4a" stroke-width="0.8"/>
<line x1="406.5" y1="519.5" x2="406.5" y2="525" stroke="#666" stroke-width="0.6"/>
<line x1="414" y1="519.5" x2="414" y2="525" stroke="#666" stroke-width="0.6"/>
<path d="M342.50,534.50 L397.00,534.00 L397.00,547.50 L342.50,550.40 Z" fill="#fff" stroke="#4a4a4a" stroke-width="0.8"/>
<path d="M399.00,528.00 L421.50,528.00 L419.02,540.62 Q416.55,545.80 412.95,545.80 L397.00,545.80 L397.00,534.00 L399.90,534.00 Z" fill="#fff" stroke="none"/>
<path d="M399.00,528.00 Q399.20,532.00 399.90,534.00 L397.00,534.00" fill="none" stroke="#555" stroke-width="0.75"/>
<path d="M421.50,528.00 L419.02,540.62 Q416.55,545.80 412.95,545.80 L397.00,545.80" fill="none" stroke="#555" stroke-width="0.75"/>
<line x1="397.00" y1="534.00" x2="397.00" y2="547.50" fill="none" stroke="#555" stroke-width="0.75"/>
<line x1="399.40" y1="534.20" x2="408.45" y2="540.98" stroke="#333" stroke-width="0.7"/>
<rect x="394.5" y="525.0" width="31.0" height="3.0" rx="1.4" fill="#f3f3f3" stroke="#4a4a4a" stroke-width="0.8"/>
<g transform="translate(336.80,543.00) scale(1.055)">
<rect x="-21.5" y="24.6" width="9.5" height="14.8" fill="#fff" stroke="#4a4a4a" stroke-width="0.8"/>
<rect x="-29.7" y="23.5" width="8.8" height="16.9" rx="2" fill="#fff" stroke="#4a4a4a" stroke-width="0.8"/>
<rect x="-22.9" y="23.9" width="1.7" height="16.1" fill="#555"/>
<line x1="-26.5" y1="24" x2="-26.5" y2="40" stroke="#999" stroke-width="0.5"/>
<path d="M-12.8,22.85 V51 H7.8 V22.85 Z" fill="#fff" stroke="#4a4a4a" stroke-width="0.8"/>
<path d="M-14.7,51 V57 Q-14.7,67.2 -2.5,67.2 Q9.7,67.2 9.7,57 V51 Z" fill="#fff" stroke="#4a4a4a" stroke-width="0.8"/>
<rect x="-7.2" y="-10.3" width="14.4" height="26.9" fill="#fff" stroke="#4a4a4a" stroke-width="0.8"/>
<path d="M-4.7,-22.2 H5.3 L4.3,-18.2 H5.3 L4.3,-14.2 H5.3 L4.3,-10.3 H-3.7 L-4.7,-14.2 H-3.7 L-4.7,-18.2 H-3.7 Z" fill="#fff" stroke="#4a4a4a" stroke-width="0.8"/>
<line x1="-4.7" y1="-18.2" x2="5.3" y2="-18.2" stroke="#4a4a4a" stroke-width="0.6"/>
<line x1="-4.7" y1="-14.2" x2="5.3" y2="-14.2" stroke="#4a4a4a" stroke-width="0.6"/>
<rect x="-10.3" y="16" width="20.6" height="6.85" rx="1.2" fill="#fff" stroke="#4a4a4a" stroke-width="0.8"/>
<line x1="-7.2" y1="17.4" x2="-7.2" y2="21.6" stroke="#4a4a4a" stroke-width="0.7"/>
<line x1="0.2" y1="17.4" x2="0.2" y2="21.6" stroke="#4a4a4a" stroke-width="0.7"/>
<line x1="7.0" y1="17.4" x2="7.0" y2="21.6" stroke="#4a4a4a" stroke-width="0.7"/>
<line x1="-10.3" y1="17.3" x2="10.3" y2="17.3" stroke="#888" stroke-width="0.4"/>
</g>
<circle cx="336.80" cy="543.00" r="5.25" fill="#fff" stroke="#3a3a3a" stroke-width="1.4"/>
<g transform="translate(497.7,-13.1) scale(1.065)">
<path d="M74.85,448.6 L74.85,448.80 L75.85,449.01 L76.85,449.19 L77.85,449.31 L78.84,449.35 L79.84,449.31 L80.84,449.19 L81.84,449.01 L82.84,448.80 L83.84,448.59 L84.84,448.41 L85.84,448.29 L86.84,448.25 L87.84,448.29 L88.84,448.41 L89.84,448.59 L90.84,448.80 L91.84,449.01 L92.84,449.19 L93.83,449.31 L94.83,449.35 L95.83,449.31 L96.83,449.19 L97.83,449.01 L98.83,448.80 L99.83,448.59 L100.83,448.41 L101.83,448.29 L102.83,448.25 L103.83,448.29 L104.83,448.41 L105.83,448.59 L106.83,448.80 L107.83,449.01 L108.83,449.19 L109.82,449.31 L110.82,449.35 L111.82,449.31 L112.82,449.19 L113.82,449.02 L114.82,448.81 L115.82,448.59 L116.82,448.42 L117.82,448.29 L118.82,448.25 L119.82,448.29 L120.82,448.41 L121.82,448.58 L122.82,448.79 L123.82,449.00 L124.82,449.18 L125.81,449.31 L126.81,449.35 L127.81,449.31 L128.81,449.19 L129.81,449.02 L130.81,448.81 L131.81,448.60 L132.81,448.42 L133.81,448.30 L134.81,448.25 L135.81,448.29 L136.81,448.41 L137.81,448.58 L138.81,448.79 L139.81,449.00 L140.81,449.18 L141.80,449.30 L142.80,449.35 L143.80,449.31 L144.80,449.20 L145.80,449.02 L146.80,448.81 L147.80,448.60 L148.80,448.42 L149.80,448.30 L150.80,448.25 L151.80,448.29 L152.80,448.40 L153.80,448.58 L154.80,448.79 L155.80,449.00 L156.79,449.18 L157.79,449.30 L158.79,449.35 L159.79,449.31 L160.79,449.20 L161.79,449.02 L162.79,448.81 L163.79,448.60 L164.79,448.42 L165.79,448.30 L166.79,448.25 L167.79,448.29 L168.79,448.40 L169.79,448.58 L170.79,448.79 L171.79,449.00 L172.78,449.18 L173.78,449.30 L174.78,449.35 L175.78,449.31 L176.78,449.20 L177.78,449.02 L178.78,448.81 L179.78,448.60 L180.78,448.42 L181.78,448.30 L182.78,448.25 L183.78,448.29 L184.78,448.40 L185.78,448.58 L186.78,448.78 L187.78,449.00 L188.77,449.18 L189.77,449.30 L190.77,449.35 L191.77,449.31 L192.77,449.20 L193.77,449.03 L194.77,448.82 L195.77,448.60 L196.77,448.42 L197.77,448.30 L198.77,448.25 L199.77,448.29 L200.77,448.40 L201.77,448.57 L202.77,448.78 L203.77,448.99 L204.76,449.18 L205.76,449.30 L206.76,449.35 L207.76,449.31 L208.76,449.20 L209.76,449.03 L210.76,448.82 L211.76,448.61 L212.76,448.42 L213.76,448.30 L214.76,448.25 L215.76,448.28 L216.76,448.40 L217.76,448.57 L218.76,448.78 L219.75,448.99 L220.75,449.17 L221.75,449.30 L222.75,449.35 L222.25,450.10 L221.14,451.20 L220.03,452.27 L218.93,453.31 L217.82,454.33 L216.71,455.32 L215.60,456.29 L214.50,457.22 L213.39,458.13 L212.28,459.02 L211.16,459.87 L210.05,460.70 L208.93,461.51 L207.81,462.29 L206.68,463.04 L205.55,463.76 L204.41,464.46 L203.28,465.14 L202.13,465.79 L200.98,466.41 L199.82,467.01 L198.66,467.58 L197.48,468.12 L196.31,468.64 L195.12,469.14 L193.92,469.61 L192.72,470.06 L191.50,470.48 L190.28,470.87 L189.05,471.24 L187.80,471.59 L186.55,471.91 L185.28,472.21 L184.00,472.48 L182.71,472.73 L181.40,472.96 L180.09,473.16 L178.75,473.33 L177.41,473.49 L176.05,473.62 L174.68,473.72 L173.29,473.80 L171.88,473.86 L170.46,473.90 L169.02,473.91 L167.56,473.89 L166.09,473.86 L164.60,473.80 L133.00,473.80 L131.51,473.86 L130.04,473.89 L128.58,473.91 L127.14,473.90 L125.72,473.86 L124.31,473.80 L122.92,473.72 L121.55,473.62 L120.19,473.49 L118.85,473.33 L117.51,473.16 L116.20,472.96 L114.89,472.73 L113.60,472.48 L112.32,472.21 L111.05,471.91 L109.80,471.59 L108.55,471.24 L107.32,470.87 L106.10,470.48 L104.88,470.06 L103.68,469.61 L102.48,469.14 L101.29,468.64 L100.12,468.12 L98.94,467.58 L97.78,467.01 L96.62,466.41 L95.47,465.79 L94.33,465.14 L93.19,464.46 L92.05,463.76 L90.92,463.04 L89.79,462.29 L88.67,461.51 L87.55,460.70 L86.44,459.87 L85.32,459.02 L84.21,458.13 L83.10,457.22 L82.00,456.29 L80.89,455.32 L79.78,454.33 L78.67,453.31 L77.57,452.27 L76.46,451.20 L75.35,450.10 Z" fill="#8ac0ea"/>
<line x1="60.6" y1="432.3" x2="237" y2="432.3" fill="none" stroke="#555" stroke-width="0.75"/>
<rect x="35.7" y="488.5" width="96.5" height="5" fill="#fff" stroke="#4a4a4a" stroke-width="0.8"/>
<rect x="165.5" y="488.5" width="96.1" height="5" fill="#fff" stroke="#4a4a4a" stroke-width="0.8"/>
<g>
<path d="M60.6,432.3 L73.6,488 L89.9,488 C105,488 120,482.5 133,482.3 L137.5,482.3 L137.5,477.5 L133,472.8 L131.51,472.86 L130.04,472.89 L128.58,472.91 L127.14,472.90 L125.72,472.86 L124.31,472.80 L122.92,472.72 L121.55,472.62 L120.19,472.49 L118.85,472.33 L117.51,472.16 L116.20,471.96 L114.89,471.73 L113.60,471.48 L112.32,471.21 L111.05,470.91 L109.80,470.59 L108.55,470.24 L107.32,469.87 L106.10,469.48 L104.88,469.06 L103.68,468.61 L102.48,468.14 L101.29,467.64 L100.12,467.12 L98.94,466.58 L97.78,466.01 L96.62,465.41 L95.47,464.79 L94.33,464.14 L93.19,463.46 L92.05,462.76 L90.92,462.04 L89.79,461.29 L88.67,460.51 L87.55,459.70 L86.44,458.87 L85.32,458.02 L84.21,457.13 L83.10,456.22 L82.00,455.29 L80.89,454.32 L79.78,453.33 L78.67,452.31 L77.57,451.27 L76.46,450.20 L75.35,449.10 L74.24,447.97 L73.12,446.82 L72.00,445.64 L70.88,444.43 L69.76,443.20 L68.63,441.93 L67.50,440.64 L66.37,439.32 L65.23,437.97 L64.08,436.60 L62.93,435.19 L61.77,433.76 L60.60,432.30 Z" fill="#fff"/>
<clipPath id="hc11"><path d="M60.6,432.3 L73.6,488 L89.9,488 C105,488 120,482.5 133,482.3 L137.5,482.3 L137.5,477.5 L133,472.8 L131.51,472.86 L130.04,472.89 L128.58,472.91 L127.14,472.90 L125.72,472.86 L124.31,472.80 L122.92,472.72 L121.55,472.62 L120.19,472.49 L118.85,472.33 L117.51,472.16 L116.20,471.96 L114.89,471.73 L113.60,471.48 L112.32,471.21 L111.05,470.91 L109.80,470.59 L108.55,470.24 L107.32,469.87 L106.10,469.48 L104.88,469.06 L103.68,468.61 L102.48,468.14 L101.29,467.64 L100.12,467.12 L98.94,466.58 L97.78,466.01 L96.62,465.41 L95.47,464.79 L94.33,464.14 L93.19,463.46 L92.05,462.76 L90.92,462.04 L89.79,461.29 L88.67,460.51 L87.55,459.70 L86.44,458.87 L85.32,458.02 L84.21,457.13 L83.10,456.22 L82.00,455.29 L80.89,454.32 L79.78,453.33 L78.67,452.31 L77.57,451.27 L76.46,450.20 L75.35,449.10 L74.24,447.97 L73.12,446.82 L72.00,445.64 L70.88,444.43 L69.76,443.20 L68.63,441.93 L67.50,440.64 L66.37,439.32 L65.23,437.97 L64.08,436.60 L62.93,435.19 L61.77,433.76 L60.60,432.30 Z"/></clipPath>
<use href="#hl" clip-path="url(#hc11)"/>
<path d="M60.6,432.3 L73.6,488 L89.9,488 C105,488 120,482.5 133,482.3 L137.5,482.3 L137.5,477.5 L133,472.8 L131.51,472.86 L130.04,472.89 L128.58,472.91 L127.14,472.90 L125.72,472.86 L124.31,472.80 L122.92,472.72 L121.55,472.62 L120.19,472.49 L118.85,472.33 L117.51,472.16 L116.20,471.96 L114.89,471.73 L113.60,471.48 L112.32,471.21 L111.05,470.91 L109.80,470.59 L108.55,470.24 L107.32,469.87 L106.10,469.48 L104.88,469.06 L103.68,468.61 L102.48,468.14 L101.29,467.64 L100.12,467.12 L98.94,466.58 L97.78,466.01 L96.62,465.41 L95.47,464.79 L94.33,464.14 L93.19,463.46 L92.05,462.76 L90.92,462.04 L89.79,461.29 L88.67,460.51 L87.55,459.70 L86.44,458.87 L85.32,458.02 L84.21,457.13 L83.10,456.22 L82.00,455.29 L80.89,454.32 L79.78,453.33 L78.67,452.31 L77.57,451.27 L76.46,450.20 L75.35,449.10 L74.24,447.97 L73.12,446.82 L72.00,445.64 L70.88,444.43 L69.76,443.20 L68.63,441.93 L67.50,440.64 L66.37,439.32 L65.23,437.97 L64.08,436.60 L62.93,435.19 L61.77,433.76 L60.60,432.30 Z" fill="none" stroke="#505050" stroke-width="0.7"/>
<path d="M98.34,471.04 L97.09,470.46 L95.85,469.85 L94.61,469.21 L93.39,468.55 L92.17,467.86 L90.96,467.14 L89.76,466.40 L88.56,465.63 L87.38,464.84 L86.19,464.02 L85.01,463.17 L83.84,462.30 L82.67,461.40 L81.51,460.48 L80.35,459.53 L79.20,458.55 L78.04,457.55 L76.89,456.52 L75.74,455.46 L74.60,454.38 L73.45,453.27 L72.30,452.14 L71.16,450.98 L70.01,449.79 L76.10,479 C84,478.3 92,476.5 98.64,472.24 Z" fill="#fff" stroke="#4a4a4a" stroke-width="0.7"/>
</g>
<g transform="translate(297.6,0) scale(-1,1)">
<path d="M60.6,432.3 L73.6,488 L89.9,488 C105,488 120,482.5 133,482.3 L137.5,482.3 L137.5,477.5 L133,472.8 L131.51,472.86 L130.04,472.89 L128.58,472.91 L127.14,472.90 L125.72,472.86 L124.31,472.80 L122.92,472.72 L121.55,472.62 L120.19,472.49 L118.85,472.33 L117.51,472.16 L116.20,471.96 L114.89,471.73 L113.60,471.48 L112.32,471.21 L111.05,470.91 L109.80,470.59 L108.55,470.24 L107.32,469.87 L106.10,469.48 L104.88,469.06 L103.68,468.61 L102.48,468.14 L101.29,467.64 L100.12,467.12 L98.94,466.58 L97.78,466.01 L96.62,465.41 L95.47,464.79 L94.33,464.14 L93.19,463.46 L92.05,462.76 L90.92,462.04 L89.79,461.29 L88.67,460.51 L87.55,459.70 L86.44,458.87 L85.32,458.02 L84.21,457.13 L83.10,456.22 L82.00,455.29 L80.89,454.32 L79.78,453.33 L78.67,452.31 L77.57,451.27 L76.46,450.20 L75.35,449.10 L74.24,447.97 L73.12,446.82 L72.00,445.64 L70.88,444.43 L69.76,443.20 L68.63,441.93 L67.50,440.64 L66.37,439.32 L65.23,437.97 L64.08,436.60 L62.93,435.19 L61.77,433.76 L60.60,432.30 Z" fill="#fff"/>
<clipPath id="hc12"><path d="M60.6,432.3 L73.6,488 L89.9,488 C105,488 120,482.5 133,482.3 L137.5,482.3 L137.5,477.5 L133,472.8 L131.51,472.86 L130.04,472.89 L128.58,472.91 L127.14,472.90 L125.72,472.86 L124.31,472.80 L122.92,472.72 L121.55,472.62 L120.19,472.49 L118.85,472.33 L117.51,472.16 L116.20,471.96 L114.89,471.73 L113.60,471.48 L112.32,471.21 L111.05,470.91 L109.80,470.59 L108.55,470.24 L107.32,469.87 L106.10,469.48 L104.88,469.06 L103.68,468.61 L102.48,468.14 L101.29,467.64 L100.12,467.12 L98.94,466.58 L97.78,466.01 L96.62,465.41 L95.47,464.79 L94.33,464.14 L93.19,463.46 L92.05,462.76 L90.92,462.04 L89.79,461.29 L88.67,460.51 L87.55,459.70 L86.44,458.87 L85.32,458.02 L84.21,457.13 L83.10,456.22 L82.00,455.29 L80.89,454.32 L79.78,453.33 L78.67,452.31 L77.57,451.27 L76.46,450.20 L75.35,449.10 L74.24,447.97 L73.12,446.82 L72.00,445.64 L70.88,444.43 L69.76,443.20 L68.63,441.93 L67.50,440.64 L66.37,439.32 L65.23,437.97 L64.08,436.60 L62.93,435.19 L61.77,433.76 L60.60,432.30 Z"/></clipPath>
<use href="#hlm" clip-path="url(#hc12)"/>
<path d="M60.6,432.3 L73.6,488 L89.9,488 C105,488 120,482.5 133,482.3 L137.5,482.3 L137.5,477.5 L133,472.8 L131.51,472.86 L130.04,472.89 L128.58,472.91 L127.14,472.90 L125.72,472.86 L124.31,472.80 L122.92,472.72 L121.55,472.62 L120.19,472.49 L118.85,472.33 L117.51,472.16 L116.20,471.96 L114.89,471.73 L113.60,471.48 L112.32,471.21 L111.05,470.91 L109.80,470.59 L108.55,470.24 L107.32,469.87 L106.10,469.48 L104.88,469.06 L103.68,468.61 L102.48,468.14 L101.29,467.64 L100.12,467.12 L98.94,466.58 L97.78,466.01 L96.62,465.41 L95.47,464.79 L94.33,464.14 L93.19,463.46 L92.05,462.76 L90.92,462.04 L89.79,461.29 L88.67,460.51 L87.55,459.70 L86.44,458.87 L85.32,458.02 L84.21,457.13 L83.10,456.22 L82.00,455.29 L80.89,454.32 L79.78,453.33 L78.67,452.31 L77.57,451.27 L76.46,450.20 L75.35,449.10 L74.24,447.97 L73.12,446.82 L72.00,445.64 L70.88,444.43 L69.76,443.20 L68.63,441.93 L67.50,440.64 L66.37,439.32 L65.23,437.97 L64.08,436.60 L62.93,435.19 L61.77,433.76 L60.60,432.30 Z" fill="none" stroke="#505050" stroke-width="0.7"/>
<path d="M98.34,471.04 L97.09,470.46 L95.85,469.85 L94.61,469.21 L93.39,468.55 L92.17,467.86 L90.96,467.14 L89.76,466.40 L88.56,465.63 L87.38,464.84 L86.19,464.02 L85.01,463.17 L83.84,462.30 L82.67,461.40 L81.51,460.48 L80.35,459.53 L79.20,458.55 L78.04,457.55 L76.89,456.52 L75.74,455.46 L74.60,454.38 L73.45,453.27 L72.30,452.14 L71.16,450.98 L70.01,449.79 L76.10,479 C84,478.3 92,476.5 98.64,472.24 Z" fill="#fff" stroke="#4a4a4a" stroke-width="0.7"/>
</g>
<rect x="137.5" y="477" width="23" height="5" fill="#fff" stroke="#4a4a4a" stroke-width="0.8"/>
<rect x="145" y="477" width="7" height="5" fill="#8ac0ea"/>
<rect x="140" y="467" width="18" height="5.5" fill="#fff" stroke="#4a4a4a" stroke-width="0.8"/>
<rect x="140.5" y="470.2" width="17" height="2" fill="#1a1a1a"/>
<path d="M134,467 Q136,462.5 149,462.5 Q162,462.5 164,467 Z" fill="#f3f3f3" stroke="#4a4a4a" stroke-width="0.8"/>
<path d="M133,482.5 H164.5 Q164.8,486.3 160.8,488 H136.7 Q132.7,486.3 133,482.5 Z" fill="#f3f3f3" stroke="#4a4a4a" stroke-width="0.8"/>
<line x1="134" y1="485.3" x2="163.5" y2="485.3" stroke="#999" stroke-width="0.4"/>
<rect x="137.5" y="488" width="23.5" height="3" fill="#fff" stroke="#4a4a4a" stroke-width="0.8"/>
<line x1="142" y1="488.3" x2="142" y2="490.8" stroke="#666" stroke-width="0.5"/>
<line x1="155" y1="488.3" x2="155" y2="490.8" stroke="#666" stroke-width="0.5"/>
</g>
<rect x="645.5" y="509.5" width="21.0" height="14.0" fill="#fff" stroke="#4a4a4a" stroke-width="0.8"/>
<rect x="653.5" y="509.9" width="5.5" height="13.6" fill="#8ac0ea"/>
<line x1="649.7" y1="510.0" x2="649.7" y2="523.0" stroke="#999" stroke-width="0.5" stroke-dasharray="1.2,1"/>
<line x1="662.3" y1="510.0" x2="662.3" y2="523.0" stroke="#999" stroke-width="0.5" stroke-dasharray="1.2,1"/>
<path d="M581.00,532.00 L639.00,532.50 L639.00,546.00 L581.00,548.00 Z" fill="#fff" stroke="#4a4a4a" stroke-width="0.8"/>
<path d="M646.00,526.50 L668.00,526.50 L665.58,538.74 Q663.16,543.80 659.64,543.80 L639.00,543.80 L639.00,532.50 L646.90,532.50 Z" fill="#fff" stroke="none"/>
<path d="M646.00,526.50 Q646.20,530.50 646.90,532.50 L639.00,532.50" fill="none" stroke="#555" stroke-width="0.75"/>
<path d="M668.00,526.50 L665.58,538.74 Q663.16,543.80 659.64,543.80 L639.00,543.80" fill="none" stroke="#555" stroke-width="0.75"/>
<line x1="639.00" y1="532.50" x2="639.00" y2="546.00" fill="none" stroke="#555" stroke-width="0.75"/>
<line x1="646.40" y1="532.70" x2="655.24" y2="539.32" stroke="#333" stroke-width="0.7"/>
<rect x="642.0" y="523.5" width="30.0" height="3.0" rx="1.4" fill="#f3f3f3" stroke="#4a4a4a" stroke-width="0.8"/>
<g transform="translate(577.40,541.60) scale(1.020)">
<rect x="-21.5" y="24.6" width="9.5" height="14.8" fill="#fff" stroke="#4a4a4a" stroke-width="0.8"/>
<rect x="-29.7" y="23.5" width="8.8" height="16.9" rx="2" fill="#fff" stroke="#4a4a4a" stroke-width="0.8"/>
<rect x="-22.9" y="23.9" width="1.7" height="16.1" fill="#555"/>
<line x1="-26.5" y1="24" x2="-26.5" y2="40" stroke="#999" stroke-width="0.5"/>
<path d="M-12.8,22.85 V51 H7.8 V22.85 Z" fill="#fff" stroke="#4a4a4a" stroke-width="0.8"/>
<path d="M-14.7,51 V57 Q-14.7,67.2 -2.5,67.2 Q9.7,67.2 9.7,57 V51 Z" fill="#fff" stroke="#4a4a4a" stroke-width="0.8"/>
<rect x="-7.2" y="-10.3" width="14.4" height="26.9" fill="#fff" stroke="#4a4a4a" stroke-width="0.8"/>
<path d="M-4.7,-22.2 H5.3 L4.3,-18.2 H5.3 L4.3,-14.2 H5.3 L4.3,-10.3 H-3.7 L-4.7,-14.2 H-3.7 L-4.7,-18.2 H-3.7 Z" fill="#fff" stroke="#4a4a4a" stroke-width="0.8"/>
<line x1="-4.7" y1="-18.2" x2="5.3" y2="-18.2" stroke="#4a4a4a" stroke-width="0.6"/>
<line x1="-4.7" y1="-14.2" x2="5.3" y2="-14.2" stroke="#4a4a4a" stroke-width="0.6"/>
<rect x="-10.3" y="16" width="20.6" height="6.85" rx="1.2" fill="#fff" stroke="#4a4a4a" stroke-width="0.8"/>
<line x1="-7.2" y1="17.4" x2="-7.2" y2="21.6" stroke="#4a4a4a" stroke-width="0.7"/>
<line x1="0.2" y1="17.4" x2="0.2" y2="21.6" stroke="#4a4a4a" stroke-width="0.7"/>
<line x1="7.0" y1="17.4" x2="7.0" y2="21.6" stroke="#4a4a4a" stroke-width="0.7"/>
<line x1="-10.3" y1="17.3" x2="10.3" y2="17.3" stroke="#888" stroke-width="0.4"/>
</g>
<circle cx="577.40" cy="541.60" r="5.15" fill="#fff" stroke="#3a3a3a" stroke-width="1.4"/>
<path d="M656,527 V535 Q656,540.5 648,540.7 L631,540.8" fill="none" stroke="#62aee8" stroke-width="1.5"/>
<path d="M625.00,540.80 L632.00,538.10 L632.00,543.50 Z" fill="#62aee8"/>
<path d="M664,499.5 H673 Q679.5,500 679.5,508 V514" fill="none" stroke="#62aee8" stroke-width="1.5"/>
<path d="M679.50,520.50 L676.80,513.50 L682.20,513.50 Z" fill="#62aee8"/>
<path d="M651,511 H645 Q638.5,511.5 638.5,518 V521" fill="none" stroke="#62aee8" stroke-width="1.5"/>
<path d="M638.50,527.50 L635.80,520.50 L641.20,520.50 Z" fill="#62aee8"/>
<g font-family="Liberation Sans, sans-serif">
<text x="319.5" y="241.3" font-size="25" fill="#1c1b4d" stroke="#1c1b4d" stroke-width="0.35" textLength="309" lengthAdjust="spacingAndGlyphs">Jak działają korki Click-clack</text>
<text x="319.5" y="269" font-size="24.5" fill="#3d3d6a" stroke="#fff" stroke-width="0.45" textLength="306.5" lengthAdjust="spacingAndGlyphs">/ How Click-clack plugs work</text>
<text x="319.5" y="296.5" font-size="14" font-weight="bold" fill="#1d1c4c" lengthAdjust="spacingAndGlyphs" textLength="453">Dobór odpowiedniego korka do umywalki, z przelewem lub bez przelewu,</text>
<text x="319.5" y="313.3" font-size="14" font-weight="bold" fill="#1d1c4c" lengthAdjust="spacingAndGlyphs" textLength="454">jest niezwykle istotny. Poniższe ilustracje obrazują niewłaściwie dobrany</text>
<text x="319.5" y="330.3" font-size="14" font-weight="bold" fill="#1d1c4c" lengthAdjust="spacingAndGlyphs" textLength="119">korek do umywalki.</text>
<text x="319.5" y="350.5" font-size="14.5" fill="#26255a" lengthAdjust="spacingAndGlyphs" textLength="367.5">Choosing the right washbasin plug, with or without overflow,</text>
<text x="319.5" y="367.5" font-size="14.5" fill="#26255a" lengthAdjust="spacingAndGlyphs" textLength="407.5">is extremely important. The illustrations below show an incorrectly</text>
<text x="319.5" y="384" font-size="14.5" fill="#26255a" lengthAdjust="spacingAndGlyphs" textLength="152.5">selected washbasin plug.</text>
<text x="148.5" y="378.3" font-size="14.3" fill="#1f1e52" stroke="#1f1e52" stroke-width="0.45" lengthAdjust="spacingAndGlyphs" textLength="117">korek z przelewem</text>
<text x="143.5" y="394.6" font-size="14.3" fill="#3d3d6a" stroke="#fff" stroke-width="0.35" paint-order="normal" lengthAdjust="spacingAndGlyphs" textLength="122">/ plug with overflow</text>
<text x="144.5" y="587.1" font-size="14.3" fill="#1f1e52" stroke="#1f1e52" stroke-width="0.45" lengthAdjust="spacingAndGlyphs" textLength="120.7">korek bez przelewu</text>
<text x="123" y="602.8" font-size="14.3" fill="#3d3d6a" stroke="#fff" stroke-width="0.35" paint-order="normal" lengthAdjust="spacingAndGlyphs" textLength="142.2">/ plug without overflow</text>
</g>
<circle cx="279.8" cy="210.0" r="27.2" fill="url(#g_ok_o)"/>
<circle cx="279.8" cy="210.0" r="24.5" fill="url(#g_ok_i)"/>
<path d="M268.50,209.50 L276.00,217.00 L291.50,201.50" fill="none" stroke="#fff" stroke-width="5.5" stroke-linecap="butt" stroke-linejoin="miter"/>
<circle cx="279.8" cy="433.0" r="27.2" fill="url(#g_ok_o)"/>
<circle cx="279.8" cy="433.0" r="24.5" fill="url(#g_ok_i)"/>
<path d="M268.50,432.50 L276.00,440.00 L291.50,424.50" fill="none" stroke="#fff" stroke-width="5.5" stroke-linecap="butt" stroke-linejoin="miter"/>
<circle cx="502.5" cy="414.8" r="27.2" fill="url(#g_no_o)"/>
<circle cx="502.5" cy="414.8" r="24.5" fill="url(#g_no_i)"/>
<path d="M493.80,406.10 l17.4,17.4 M511.20,406.10 l-17.4,17.4" fill="none" stroke="#fff" stroke-width="5"/>
<circle cx="724.0" cy="415.0" r="27.2" fill="url(#g_no_o)"/>
<circle cx="724.0" cy="415.0" r="24.5" fill="url(#g_no_i)"/>
<path d="M715.30,406.30 l17.4,17.4 M732.70,406.30 l-17.4,17.4" fill="none" stroke="#fff" stroke-width="5"/>
</svg></body></html>
